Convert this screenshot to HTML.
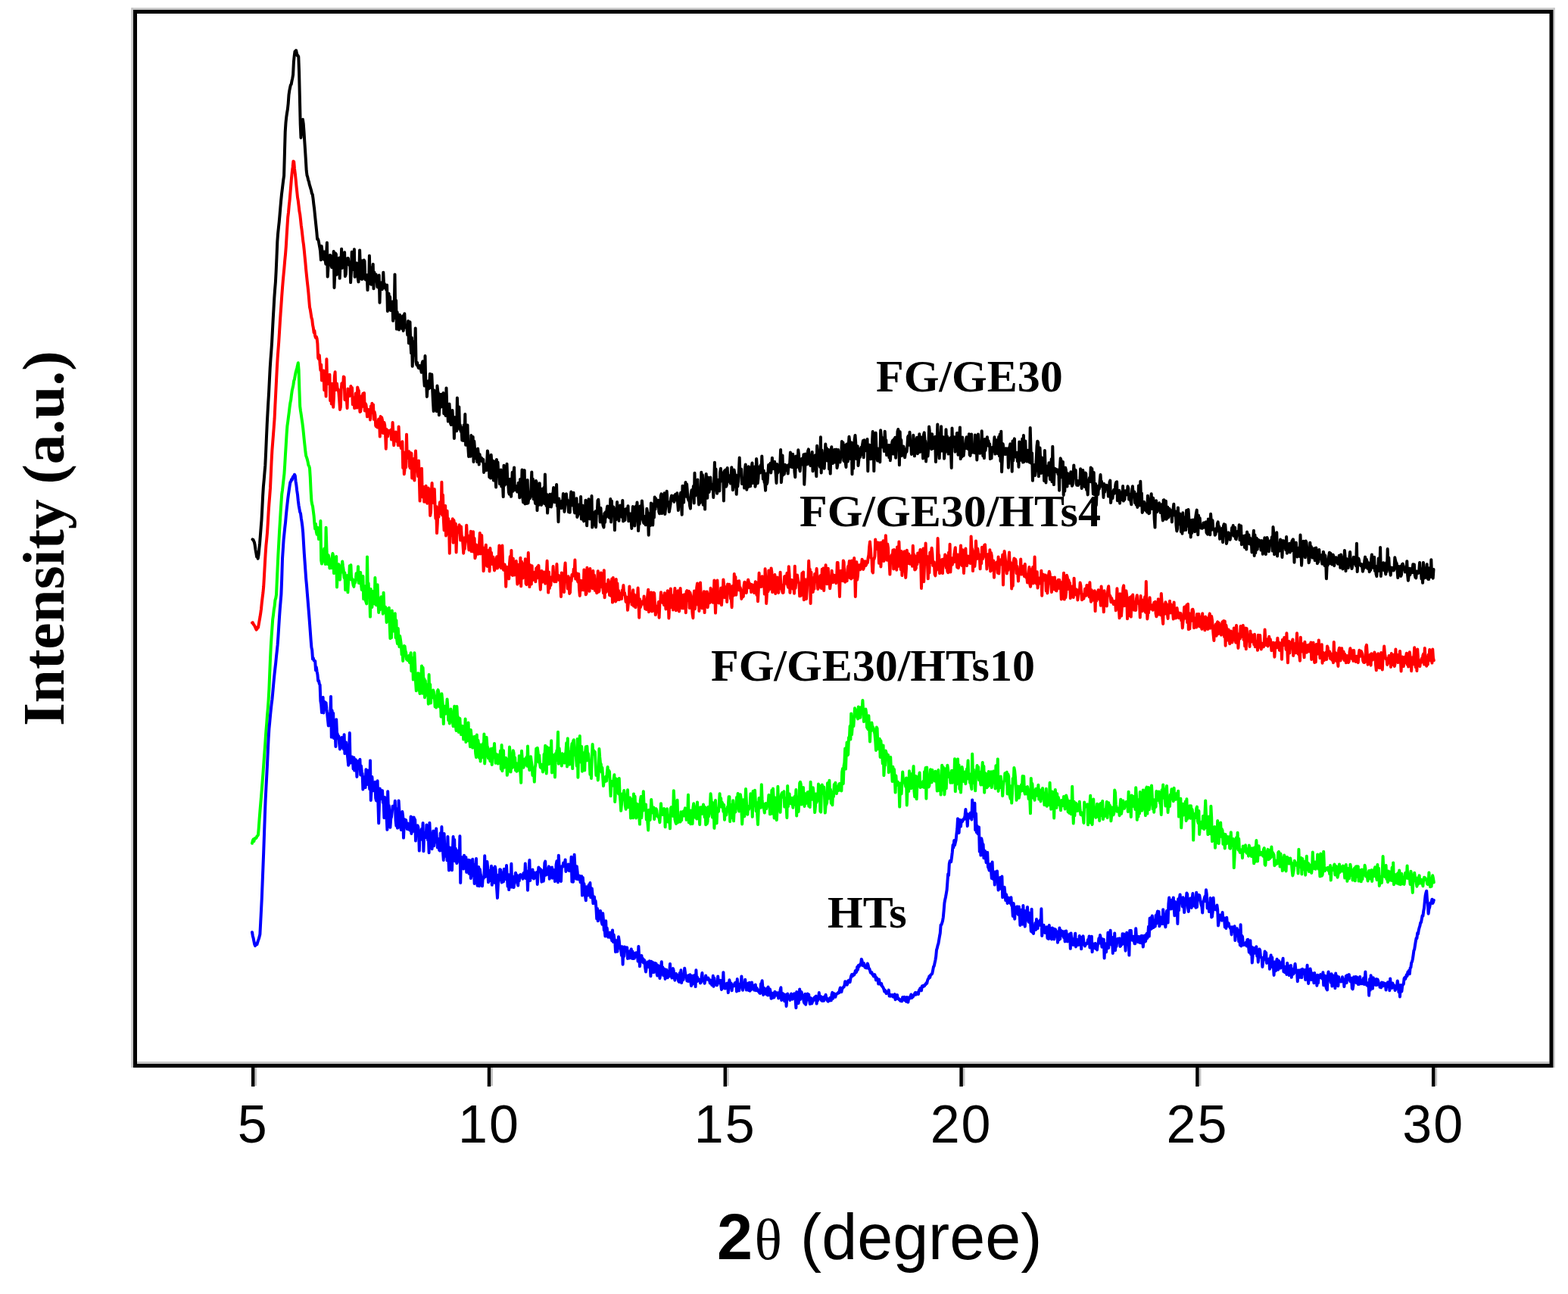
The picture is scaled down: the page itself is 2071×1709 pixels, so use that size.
<!DOCTYPE html>
<html><head><meta charset="utf-8"><style>
html,body{margin:0;padding:0;background:#fff;}
body{width:2071px;height:1709px;overflow:hidden;}
svg{display:block;}
.curves path{fill:none;stroke-width:4.0;stroke-linejoin:round;stroke-linecap:round;}
.tk line{stroke:#000;stroke-width:4.5;}
.tl{font-family:"Liberation Sans",Arial,sans-serif;font-size:70px;text-anchor:middle;fill:#000;letter-spacing:2px;}
.lab{font-family:"Liberation Serif","Times New Roman",serif;font-weight:bold;font-size:60px;fill:#000;}
</style></head><body>
<svg width="2071" height="1709" viewBox="0 0 2071 1709">
<rect x="0" y="0" width="2071" height="1709" fill="#fff"/>
<g class="curves">
<path d="M333.5 712.4L334.3 712.6L335.1 714.4L335.9 716.2L336.7 720.2L337.5 726.1L338.3 730.4L339.1 735.4L339.9 734.4L340.7 737.7L341.5 733.2L342.3 725.1L343.1 717.2L343.9 706.9L344.7 696.5L345.5 686.6L346.3 671.7L347.1 655.4L347.9 642.4L348.7 633.9L349.5 624.2L350.3 614.9L351.1 597.8L351.9 579.1L352.7 560.9L353.5 545.7L354.3 531.6L355.1 518.3L355.9 501.9L356.7 486.0L357.5 474.1L358.3 463.9L359.1 452.4L359.9 436.8L360.7 421.7L361.5 407.9L362.3 393.3L363.1 382.3L363.9 372.6L364.7 357.5L365.5 338.9L366.3 319.2L367.1 308.5L367.9 300.6L368.7 293.3L369.5 284.2L370.3 274.7L371.1 265.5L371.9 257.2L372.7 250.8L373.5 243.9L374.3 237.4L375.1 232.1L375.9 202.8L376.7 174.2L377.5 161.9L378.3 154.4L379.1 148.9L379.9 144.1L380.7 136.6L381.5 125.2L382.3 119.7L383.1 115.8L383.9 112.3L384.7 111.3L385.5 106.9L386.3 103.4L387.1 98.7L387.9 82.2L388.7 73.9L389.5 68.0L390.3 67.6L391.1 66.5L391.9 70.1L392.7 73.4L393.5 73.2L394.3 75.1L395.1 96.1L395.9 129.9L396.7 163.9L397.5 181.9L398.3 172.7L399.1 160.7L399.9 157.7L400.7 163.2L401.5 174.0L402.3 186.8L403.1 198.8L403.9 211.5L404.7 225.3L405.5 231.5L406.3 233.8L407.1 237.7L407.9 239.7L408.7 243.7L409.5 246.2L410.3 248.8L411.1 251.5L411.9 255.5L412.7 256.6L413.5 262.0L414.3 269.3L415.1 275.4L415.9 283.4L416.7 291.3L417.5 298.7L418.3 306.5L419.1 315.9L419.9 315.6L420.7 318.0L421.5 322.5L422.3 326.8L423.1 332.0L423.9 343.3L424.7 325.1L425.5 330.9L426.3 335.1L427.1 342.3L427.9 342.7L428.7 332.4L429.5 342.5L430.3 348.7L431.1 335.7L431.9 320.5L432.7 365.4L433.5 353.0L434.3 341.8L435.1 342.6L435.9 336.9L436.7 337.7L437.5 350.7L438.3 353.3L439.1 341.4L439.9 350.5L440.7 332.0L441.5 380.0L442.3 361.2L443.1 334.5L443.9 335.8L444.7 362.7L445.5 361.5L446.3 350.8L447.1 352.9L447.9 340.6L448.7 367.6L449.5 349.8L450.3 351.7L451.1 328.7L451.9 354.0L452.7 348.0L453.5 351.7L454.3 340.2L455.1 333.3L455.9 364.9L456.7 362.4L457.5 350.3L458.3 341.5L459.1 343.2L459.9 341.1L460.7 348.8L461.5 350.2L462.3 346.8L463.1 373.1L463.9 359.9L464.7 332.8L465.5 350.0L466.3 355.9L467.1 347.3L467.9 329.3L468.7 365.8L469.5 359.5L470.3 350.5L471.1 347.5L471.9 359.3L472.7 367.5L473.5 372.3L474.3 359.6L475.1 330.4L475.9 351.7L476.7 344.1L477.5 368.7L478.3 368.8L479.1 354.2L479.9 343.8L480.7 343.5L481.5 344.9L482.3 368.9L483.1 363.0L483.9 370.1L484.7 363.3L485.5 383.1L486.3 367.7L487.1 373.0L487.9 337.7L488.7 365.5L489.5 375.0L490.3 375.7L491.1 353.5L491.9 361.7L492.7 348.9L493.5 381.3L494.3 359.5L495.1 370.0L495.9 365.8L496.7 362.5L497.5 368.6L498.3 378.9L499.1 376.8L499.9 379.7L500.7 363.6L501.5 399.8L502.3 373.3L503.1 373.4L503.9 373.3L504.7 382.1L505.5 380.8L506.3 359.8L507.1 377.1L507.9 374.8L508.7 380.5L509.5 381.1L510.3 382.9L511.1 376.6L511.9 411.0L512.7 390.8L513.5 387.7L514.3 399.5L515.1 392.0L515.9 410.0L516.7 408.7L517.5 402.5L518.3 398.5L519.1 423.7L519.9 403.4L520.7 407.3L521.5 362.4L522.3 420.1L523.1 396.8L523.9 434.6L524.7 412.3L525.5 422.8L526.3 430.1L527.1 435.4L527.9 415.7L528.7 431.2L529.5 427.2L530.3 428.8L531.1 434.2L531.9 417.3L532.7 436.9L533.5 428.3L534.3 414.2L535.1 432.4L535.9 431.9L536.7 431.3L537.5 434.1L538.3 442.5L539.1 423.9L539.9 453.2L540.7 445.8L541.5 425.3L542.3 452.6L543.1 466.3L543.9 446.1L544.7 483.7L545.5 465.4L546.3 453.5L547.1 451.1L547.9 468.7L548.7 433.6L549.5 477.7L550.3 481.9L551.1 478.9L551.9 483.5L552.7 486.0L553.5 486.2L554.3 483.0L555.1 486.0L555.9 487.6L556.7 491.8L557.5 480.3L558.3 477.2L559.1 477.9L559.9 499.1L560.7 509.5L561.5 470.1L562.3 507.2L563.1 504.9L563.9 523.9L564.7 511.9L565.5 503.2L566.3 513.3L567.1 509.2L567.9 493.7L568.7 512.1L569.5 501.3L570.3 494.6L571.1 512.3L571.9 529.6L572.7 543.1L573.5 515.4L574.3 523.7L575.1 531.9L575.9 533.0L576.7 543.2L577.5 509.6L578.3 517.3L579.1 519.4L579.9 548.2L580.7 536.1L581.5 538.2L582.3 520.8L583.1 537.2L583.9 530.9L584.7 532.5L585.5 519.1L586.3 546.2L587.1 536.7L587.9 546.9L588.7 548.9L589.5 512.4L590.3 536.1L591.1 543.8L591.9 556.5L592.7 553.5L593.5 533.5L594.3 545.7L595.1 559.4L595.9 561.0L596.7 553.1L597.5 541.9L598.3 555.7L599.1 551.0L599.9 578.9L600.7 551.5L601.5 551.0L602.3 553.3L603.1 569.3L603.9 525.5L604.7 546.4L605.5 552.9L606.3 537.4L607.1 566.9L607.9 561.2L608.7 570.0L609.5 564.8L610.3 581.5L611.1 569.1L611.9 582.0L612.7 561.3L613.5 572.6L614.3 547.1L615.1 587.8L615.9 570.8L616.7 575.0L617.5 561.4L618.3 591.1L619.1 602.9L619.9 602.4L620.7 601.6L621.5 602.6L622.3 574.9L623.1 581.7L623.9 577.0L624.7 577.0L625.5 610.0L626.3 582.8L627.1 593.3L627.9 605.2L628.7 599.2L629.5 594.0L630.3 610.1L631.1 592.4L631.9 599.8L632.7 613.6L633.5 599.9L634.3 604.2L635.1 608.4L635.9 604.8L636.7 608.0L637.5 610.1L638.3 606.7L639.1 623.9L639.9 613.0L640.7 614.5L641.5 619.9L642.3 621.2L643.1 611.7L643.9 595.4L644.7 600.7L645.5 606.5L646.3 630.1L647.1 621.8L647.9 631.4L648.7 600.8L649.5 613.1L650.3 608.1L651.1 628.5L651.9 634.6L652.7 609.2L653.5 612.2L654.3 625.9L655.1 643.5L655.9 606.9L656.7 624.5L657.5 610.4L658.3 626.2L659.1 625.5L659.9 639.1L660.7 629.6L661.5 620.4L662.3 642.5L663.1 640.3L663.9 638.7L664.7 656.1L665.5 614.8L666.3 640.9L667.1 622.9L667.9 639.4L668.7 639.2L669.5 612.7L670.3 633.3L671.1 637.3L671.9 649.9L672.7 652.7L673.5 632.7L674.3 641.9L675.1 655.8L675.9 643.2L676.7 623.8L677.5 648.7L678.3 625.9L679.1 617.4L679.9 647.2L680.7 641.4L681.5 646.7L682.3 646.5L683.1 649.5L683.9 646.2L684.7 637.7L685.5 641.9L686.3 657.3L687.1 632.9L687.9 645.0L688.7 652.4L689.5 620.6L690.3 657.0L691.1 663.4L691.9 626.0L692.7 621.1L693.5 665.4L694.3 654.0L695.1 650.2L695.9 665.0L696.7 633.9L697.5 664.5L698.3 658.7L699.1 652.9L699.9 658.3L700.7 655.0L701.5 642.8L702.3 623.4L703.1 655.5L703.9 632.8L704.7 659.1L705.5 642.2L706.3 659.5L707.1 665.0L707.9 635.1L708.7 637.0L709.5 674.1L710.3 653.6L711.1 667.3L711.9 655.0L712.7 638.2L713.5 655.5L714.3 657.4L715.1 667.0L715.9 645.7L716.7 661.6L717.5 657.5L718.3 644.1L719.1 665.1L719.9 626.5L720.7 654.5L721.5 668.0L722.3 652.9L723.1 677.6L723.9 664.8L724.7 665.3L725.5 669.0L726.3 652.7L727.1 655.2L727.9 669.5L728.7 665.4L729.5 652.0L730.3 653.4L731.1 643.9L731.9 662.8L732.7 663.3L733.5 656.7L734.3 652.3L735.1 640.0L735.9 668.2L736.7 667.2L737.5 689.2L738.3 658.6L739.1 668.0L739.9 667.4L740.7 669.3L741.5 671.1L742.3 661.4L743.1 663.8L743.9 652.0L744.7 666.5L745.5 675.9L746.3 666.5L747.1 653.2L747.9 652.3L748.7 662.2L749.5 660.4L750.3 666.9L751.1 676.3L751.9 673.8L752.7 676.7L753.5 659.1L754.3 649.6L755.1 659.8L755.9 667.4L756.7 661.3L757.5 650.7L758.3 672.3L759.1 677.4L759.9 668.2L760.7 669.4L761.5 658.2L762.3 682.9L763.1 681.0L763.9 667.4L764.7 666.6L765.5 676.9L766.3 678.8L767.1 655.9L767.9 685.5L768.7 669.3L769.5 667.5L770.3 684.8L771.1 688.4L771.9 675.3L772.7 681.2L773.5 660.7L774.3 669.5L775.1 694.3L775.9 674.0L776.7 679.8L777.5 659.2L778.3 669.0L779.1 685.4L779.9 672.3L780.7 680.2L781.5 655.1L782.3 696.6L783.1 693.4L783.9 677.2L784.7 690.2L785.5 684.9L786.3 675.3L787.1 696.2L787.9 675.3L788.7 678.2L789.5 661.1L790.3 659.8L791.1 670.3L791.9 672.0L792.7 689.5L793.5 671.0L794.3 689.0L795.1 682.3L795.9 690.1L796.7 694.3L797.5 696.5L798.3 678.0L799.1 690.0L799.9 676.2L800.7 683.0L801.5 672.6L802.3 668.4L803.1 673.8L803.9 669.7L804.7 683.7L805.5 678.7L806.3 659.0L807.1 689.4L807.9 661.7L808.7 681.2L809.5 674.3L810.3 669.4L811.1 673.4L811.9 700.3L812.7 673.8L813.5 686.5L814.3 677.7L815.1 663.0L815.9 678.6L816.7 668.5L817.5 687.8L818.3 669.9L819.1 667.6L819.9 680.5L820.7 671.3L821.5 682.8L822.3 660.9L823.1 688.4L823.9 672.4L824.7 687.5L825.5 686.8L826.3 674.2L827.1 672.0L827.9 677.3L828.7 677.3L829.5 668.2L830.3 688.3L831.1 681.8L831.9 684.1L832.7 678.4L833.5 685.0L834.3 697.9L835.1 681.7L835.9 669.1L836.7 670.3L837.5 677.5L838.3 694.5L839.1 683.1L839.9 668.4L840.7 673.2L841.5 663.5L842.3 676.7L843.1 701.1L843.9 685.8L844.7 692.1L845.5 668.6L846.3 685.5L847.1 678.0L847.9 661.4L848.7 670.9L849.5 688.3L850.3 690.9L851.1 681.9L851.9 691.0L852.7 693.3L853.5 688.7L854.3 671.8L855.1 676.3L855.9 683.4L856.7 706.8L857.5 678.4L858.3 680.4L859.1 694.0L859.9 664.4L860.7 673.3L861.5 670.3L862.3 693.4L863.1 665.5L863.9 683.4L864.7 656.6L865.5 672.7L866.3 658.5L867.1 666.0L867.9 668.4L868.7 661.7L869.5 660.8L870.3 675.8L871.1 678.3L871.9 677.7L872.7 654.6L873.5 652.3L874.3 678.1L875.1 673.5L875.9 672.0L876.7 669.8L877.5 651.3L878.3 679.1L879.1 671.2L879.9 662.4L880.7 648.8L881.5 662.2L882.3 662.7L883.1 666.9L883.9 676.0L884.7 671.1L885.5 666.2L886.3 657.5L887.1 654.6L887.9 660.7L888.7 657.6L889.5 655.1L890.3 662.9L891.1 659.0L891.9 652.9L892.7 660.3L893.5 655.3L894.3 651.2L895.1 664.2L895.9 674.0L896.7 656.8L897.5 666.2L898.3 657.3L899.1 650.8L899.9 666.7L900.7 679.8L901.5 641.7L902.3 652.4L903.1 663.6L903.9 642.1L904.7 647.8L905.5 637.1L906.3 655.7L907.1 639.4L907.9 649.3L908.7 658.4L909.5 661.0L910.3 659.6L911.1 668.1L911.9 671.6L912.7 652.8L913.5 647.2L914.3 648.0L915.1 652.1L915.9 642.0L916.7 664.4L917.5 624.7L918.3 654.8L919.1 645.9L919.9 647.4L920.7 652.1L921.5 633.4L922.3 656.2L923.1 666.4L923.9 658.2L924.7 664.1L925.5 658.3L926.3 623.8L927.1 642.2L927.9 627.3L928.7 666.7L929.5 653.2L930.3 639.4L931.1 672.6L931.9 634.3L932.7 625.9L933.5 643.7L934.3 657.8L935.1 630.6L935.9 635.6L936.7 649.9L937.5 640.5L938.3 630.4L939.1 640.9L939.9 645.7L940.7 641.2L941.5 640.2L942.3 656.9L943.1 637.0L943.9 610.7L944.7 641.0L945.5 619.5L946.3 645.5L947.1 651.8L947.9 643.7L948.7 633.8L949.5 641.1L950.3 648.4L951.1 624.1L951.9 618.8L952.7 635.4L953.5 624.2L954.3 629.4L955.1 627.8L955.9 661.5L956.7 622.0L957.5 638.1L958.3 620.4L959.1 642.7L959.9 640.4L960.7 617.9L961.5 633.5L962.3 628.3L963.1 636.0L963.9 628.0L964.7 638.4L965.5 629.7L966.3 617.2L967.1 632.6L967.9 647.2L968.7 641.9L969.5 620.4L970.3 624.7L971.1 635.1L971.9 627.5L972.7 652.8L973.5 635.8L974.3 642.5L975.1 635.3L975.9 622.2L976.7 604.6L977.5 625.9L978.3 620.9L979.1 619.5L979.9 639.0L980.7 631.6L981.5 633.4L982.3 632.7L983.1 644.5L983.9 619.7L984.7 613.5L985.5 623.1L986.3 646.7L987.1 633.2L987.9 643.5L988.7 616.2L989.5 618.3L990.3 632.1L991.1 642.3L991.9 633.3L992.7 616.9L993.5 611.5L994.3 638.1L995.1 628.3L995.9 632.2L996.7 616.6L997.5 642.7L998.3 637.9L999.1 605.9L999.9 617.2L1000.7 638.2L1001.5 631.5L1002.3 616.8L1003.1 622.5L1003.9 624.4L1004.7 614.3L1005.5 623.7L1006.3 602.4L1007.1 619.5L1007.9 632.6L1008.7 621.5L1009.5 636.7L1010.3 638.3L1011.1 647.8L1011.9 625.4L1012.7 639.2L1013.5 637.2L1014.3 626.2L1015.1 613.9L1015.9 621.7L1016.7 619.9L1017.5 611.8L1018.3 624.4L1019.1 617.0L1019.9 604.7L1020.7 618.8L1021.5 618.9L1022.3 614.7L1023.1 609.7L1023.9 617.4L1024.7 626.3L1025.5 637.9L1026.3 613.1L1027.1 624.8L1027.9 623.0L1028.7 617.1L1029.5 615.2L1030.3 613.5L1031.1 593.9L1031.9 637.2L1032.7 627.7L1033.5 601.4L1034.3 627.6L1035.1 621.6L1035.9 626.0L1036.7 613.7L1037.5 615.7L1038.3 614.7L1039.1 621.6L1039.9 618.7L1040.7 625.5L1041.5 614.0L1042.3 616.8L1043.1 612.7L1043.9 597.5L1044.7 603.7L1045.5 616.9L1046.3 617.1L1047.1 599.7L1047.9 612.5L1048.7 605.4L1049.5 623.8L1050.3 630.3L1051.1 602.6L1051.9 617.5L1052.7 609.3L1053.5 612.5L1054.3 594.3L1055.1 600.9L1055.9 618.8L1056.7 622.3L1057.5 612.8L1058.3 606.9L1059.1 605.8L1059.9 613.4L1060.7 608.5L1061.5 600.2L1062.3 639.8L1063.1 623.1L1063.9 599.5L1064.7 613.7L1065.5 612.8L1066.3 613.0L1067.1 595.6L1067.9 593.3L1068.7 602.5L1069.5 601.4L1070.3 615.0L1071.1 614.7L1071.9 607.9L1072.7 596.9L1073.5 622.3L1074.3 605.5L1075.1 614.3L1075.9 617.6L1076.7 601.2L1077.5 619.4L1078.3 629.1L1079.1 588.7L1079.9 598.0L1080.7 602.0L1081.5 599.6L1082.3 614.3L1083.1 616.8L1083.9 577.3L1084.7 624.5L1085.5 594.5L1086.3 605.0L1087.1 616.3L1087.9 605.8L1088.7 618.7L1089.5 603.7L1090.3 586.6L1091.1 598.2L1091.9 592.1L1092.7 608.4L1093.5 606.7L1094.3 594.1L1095.1 619.4L1095.9 603.6L1096.7 625.6L1097.5 596.0L1098.3 590.2L1099.1 605.6L1099.9 612.1L1100.7 608.1L1101.5 606.9L1102.3 593.7L1103.1 610.6L1103.9 597.7L1104.7 593.6L1105.5 618.0L1106.3 614.4L1107.1 594.1L1107.9 601.7L1108.7 605.0L1109.5 610.5L1110.3 603.5L1111.1 601.1L1111.9 583.0L1112.7 590.5L1113.5 584.5L1114.3 608.5L1115.1 609.1L1115.9 588.3L1116.7 611.2L1117.5 617.0L1118.3 586.4L1119.1 602.4L1119.9 609.5L1120.7 587.9L1121.5 576.7L1122.3 583.8L1123.1 598.1L1123.9 606.6L1124.7 584.5L1125.5 626.2L1126.3 593.9L1127.1 618.6L1127.9 595.8L1128.7 580.2L1129.5 574.9L1130.3 585.7L1131.1 605.9L1131.9 589.9L1132.7 589.3L1133.5 615.0L1134.3 607.8L1135.1 593.1L1135.9 603.8L1136.7 599.8L1137.5 590.4L1138.3 600.2L1139.1 587.0L1139.9 582.0L1140.7 604.2L1141.5 581.3L1142.3 595.5L1143.1 593.6L1143.9 583.6L1144.7 590.1L1145.5 580.0L1146.3 622.3L1147.1 587.8L1147.9 587.6L1148.7 599.2L1149.5 595.7L1150.3 606.3L1151.1 588.5L1151.9 585.7L1152.7 570.1L1153.5 581.9L1154.3 622.1L1155.1 587.5L1155.9 574.3L1156.7 571.7L1157.5 593.3L1158.3 605.0L1159.1 608.5L1159.9 592.4L1160.7 607.3L1161.5 595.8L1162.3 610.3L1163.1 568.2L1163.9 577.2L1164.7 577.6L1165.5 590.4L1166.3 580.8L1167.1 585.7L1167.9 596.0L1168.7 569.7L1169.5 582.1L1170.3 581.4L1171.1 601.1L1171.9 590.7L1172.7 589.1L1173.5 588.2L1174.3 604.2L1175.1 588.0L1175.9 608.2L1176.7 593.9L1177.5 592.7L1178.3 584.0L1179.1 581.8L1179.9 599.6L1180.7 579.9L1181.5 584.4L1182.3 577.8L1183.1 604.7L1183.9 584.8L1184.7 589.6L1185.5 569.8L1186.3 567.0L1187.1 577.7L1187.9 614.3L1188.7 570.2L1189.5 593.7L1190.3 581.1L1191.1 601.9L1191.9 600.6L1192.7 591.3L1193.5 589.7L1194.3 595.1L1195.1 604.3L1195.9 599.0L1196.7 593.6L1197.5 596.7L1198.3 589.8L1199.1 577.0L1199.9 575.6L1200.7 587.8L1201.5 570.8L1202.3 585.7L1203.1 585.5L1203.9 600.0L1204.7 594.5L1205.5 597.2L1206.3 574.7L1207.1 581.7L1207.9 602.3L1208.7 584.2L1209.5 589.3L1210.3 582.7L1211.1 577.7L1211.9 599.2L1212.7 578.1L1213.5 590.1L1214.3 573.2L1215.1 597.1L1215.9 588.6L1216.7 577.5L1217.5 594.0L1218.3 582.9L1219.1 605.5L1219.9 574.5L1220.7 571.4L1221.5 581.5L1222.3 582.7L1223.1 609.4L1223.9 586.1L1224.7 594.0L1225.5 602.5L1226.3 591.4L1227.1 563.5L1227.9 570.3L1228.7 574.4L1229.5 583.3L1230.3 593.3L1231.1 573.2L1231.9 592.4L1232.7 584.7L1233.5 591.9L1234.3 587.6L1235.1 576.7L1235.9 610.0L1236.7 597.5L1237.5 587.9L1238.3 560.5L1239.1 593.4L1239.9 584.6L1240.7 605.3L1241.5 575.1L1242.3 576.4L1243.1 563.2L1243.9 595.6L1244.7 576.7L1245.5 588.3L1246.3 577.5L1247.1 605.7L1247.9 594.6L1248.7 597.0L1249.5 567.2L1250.3 588.2L1251.1 576.4L1251.9 587.5L1252.7 599.5L1253.5 587.0L1254.3 593.2L1255.1 578.3L1255.9 594.5L1256.7 617.9L1257.5 565.6L1258.3 589.7L1259.1 582.0L1259.9 589.9L1260.7 577.2L1261.5 596.7L1262.3 595.0L1263.1 587.5L1263.9 571.9L1264.7 572.0L1265.5 600.7L1266.3 589.2L1267.1 578.1L1267.9 564.4L1268.7 606.1L1269.5 600.6L1270.3 603.4L1271.1 577.4L1271.9 592.8L1272.7 601.9L1273.5 593.6L1274.3 589.2L1275.1 592.0L1275.9 580.6L1276.7 577.2L1277.5 592.1L1278.3 583.9L1279.1 593.4L1279.9 573.3L1280.7 600.8L1281.5 601.8L1282.3 582.0L1283.1 573.6L1283.9 597.7L1284.7 587.9L1285.5 590.6L1286.3 588.6L1287.1 598.2L1287.9 574.4L1288.7 591.5L1289.5 586.5L1290.3 607.5L1291.1 592.9L1291.9 573.5L1292.7 596.8L1293.5 592.1L1294.3 598.8L1295.1 592.1L1295.9 590.9L1296.7 569.3L1297.5 590.0L1298.3 602.0L1299.1 585.9L1299.9 605.1L1300.7 580.1L1301.5 595.0L1302.3 588.5L1303.1 588.8L1303.9 577.2L1304.7 588.1L1305.5 582.3L1306.3 589.3L1307.1 586.2L1307.9 606.1L1308.7 593.8L1309.5 605.3L1310.3 591.0L1311.1 592.6L1311.9 595.9L1312.7 587.0L1313.5 577.2L1314.3 599.6L1315.1 580.8L1315.9 584.2L1316.7 597.8L1317.5 598.9L1318.3 586.2L1319.1 577.1L1319.9 602.1L1320.7 573.4L1321.5 608.9L1322.3 569.8L1323.1 623.2L1323.9 604.5L1324.7 586.3L1325.5 592.2L1326.3 599.8L1327.1 595.4L1327.9 600.1L1328.7 592.2L1329.5 598.1L1330.3 598.0L1331.1 592.5L1331.9 617.7L1332.7 596.6L1333.5 590.3L1334.3 586.4L1335.1 601.5L1335.9 588.9L1336.7 622.8L1337.5 582.6L1338.3 608.4L1339.1 583.3L1339.9 579.4L1340.7 602.4L1341.5 603.6L1342.3 603.7L1343.1 597.7L1343.9 609.1L1344.7 598.0L1345.5 616.7L1346.3 583.6L1347.1 605.7L1347.9 603.6L1348.7 607.8L1349.5 595.0L1350.3 579.4L1351.1 610.6L1351.9 575.0L1352.7 609.8L1353.5 592.3L1354.3 582.6L1355.1 603.1L1355.9 597.6L1356.7 609.6L1357.5 594.7L1358.3 606.6L1359.1 596.0L1359.9 610.7L1360.7 564.9L1361.5 592.7L1362.3 611.9L1363.1 598.6L1363.9 634.8L1364.7 620.8L1365.5 625.7L1366.3 613.9L1367.1 627.9L1367.9 621.4L1368.7 607.1L1369.5 589.2L1370.3 582.8L1371.1 584.3L1371.9 629.2L1372.7 600.9L1373.5 591.4L1374.3 608.4L1375.1 625.0L1375.9 604.3L1376.7 607.6L1377.5 622.0L1378.3 609.7L1379.1 634.9L1379.9 595.0L1380.7 616.6L1381.5 637.4L1382.3 615.6L1383.1 615.7L1383.9 627.4L1384.7 620.1L1385.5 611.2L1386.3 624.6L1387.1 633.3L1387.9 617.5L1388.7 606.3L1389.5 636.3L1390.3 589.8L1391.1 623.7L1391.9 640.1L1392.7 621.3L1393.5 618.8L1394.3 619.7L1395.1 622.3L1395.9 623.2L1396.7 620.4L1397.5 626.3L1398.3 623.6L1399.1 647.7L1399.9 618.0L1400.7 605.3L1401.5 607.6L1402.3 620.4L1403.1 630.7L1403.9 609.9L1404.7 653.9L1405.5 624.7L1406.3 648.6L1407.1 617.4L1407.9 620.5L1408.7 641.2L1409.5 642.5L1410.3 625.2L1411.1 634.7L1411.9 626.8L1412.7 638.2L1413.5 630.5L1414.3 623.2L1415.1 632.8L1415.9 641.8L1416.7 640.2L1417.5 628.1L1418.3 614.4L1419.1 628.7L1419.9 621.8L1420.7 620.9L1421.5 638.3L1422.3 640.8L1423.1 635.1L1423.9 640.9L1424.7 635.1L1425.5 638.9L1426.3 637.3L1427.1 619.2L1427.9 625.8L1428.7 645.0L1429.5 630.9L1430.3 621.1L1431.1 631.6L1431.9 629.7L1432.7 642.9L1433.5 624.4L1434.3 625.6L1435.1 647.0L1435.9 642.5L1436.7 653.4L1437.5 635.5L1438.3 634.4L1439.1 630.7L1439.9 636.0L1440.7 617.4L1441.5 636.5L1442.3 619.0L1443.1 636.5L1443.9 652.5L1444.7 624.1L1445.5 653.3L1446.3 652.7L1447.1 638.9L1447.9 667.2L1448.7 649.7L1449.5 642.2L1450.3 653.1L1451.1 641.6L1451.9 645.7L1452.7 634.5L1453.5 626.9L1454.3 639.4L1455.1 635.9L1455.9 642.9L1456.7 642.6L1457.5 656.9L1458.3 639.1L1459.1 649.8L1459.9 641.5L1460.7 645.4L1461.5 640.7L1462.3 645.3L1463.1 643.7L1463.9 655.6L1464.7 650.5L1465.5 636.8L1466.3 634.6L1467.1 664.1L1467.9 656.8L1468.7 652.8L1469.5 658.0L1470.3 649.5L1471.1 647.1L1471.9 651.7L1472.7 647.3L1473.5 639.3L1474.3 636.9L1475.1 636.3L1475.9 661.3L1476.7 655.3L1477.5 661.6L1478.3 647.7L1479.1 664.7L1479.9 650.3L1480.7 660.3L1481.5 654.0L1482.3 659.7L1483.1 642.0L1483.9 661.6L1484.7 656.2L1485.5 659.7L1486.3 648.3L1487.1 649.8L1487.9 653.4L1488.7 651.6L1489.5 642.3L1490.3 644.9L1491.1 659.6L1491.9 652.5L1492.7 659.4L1493.5 662.2L1494.3 666.3L1495.1 647.9L1495.9 642.2L1496.7 652.1L1497.5 656.3L1498.3 649.6L1499.1 664.1L1499.9 658.4L1500.7 666.8L1501.5 652.5L1502.3 669.9L1503.1 666.2L1503.9 641.5L1504.7 660.2L1505.5 667.6L1506.3 635.7L1507.1 660.2L1507.9 651.4L1508.7 676.9L1509.5 674.3L1510.3 670.8L1511.1 662.8L1511.9 665.6L1512.7 669.8L1513.5 674.3L1514.3 667.5L1515.1 676.5L1515.9 654.7L1516.7 666.1L1517.5 678.3L1518.3 677.6L1519.1 663.0L1519.9 660.8L1520.7 652.3L1521.5 671.9L1522.3 665.7L1523.1 657.7L1523.9 662.9L1524.7 685.6L1525.5 696.6L1526.3 661.7L1527.1 661.3L1527.9 676.3L1528.7 672.6L1529.5 670.2L1530.3 669.4L1531.1 664.3L1531.9 673.9L1532.7 676.9L1533.5 673.8L1534.3 666.3L1535.1 680.7L1535.9 687.4L1536.7 660.4L1537.5 660.2L1538.3 678.2L1539.1 685.6L1539.9 661.7L1540.7 685.8L1541.5 682.7L1542.3 669.7L1543.1 683.6L1543.9 680.2L1544.7 671.9L1545.5 678.2L1546.3 680.7L1547.1 674.4L1547.9 689.5L1548.7 674.8L1549.5 672.7L1550.3 665.7L1551.1 680.4L1551.9 675.5L1552.7 675.6L1553.5 693.8L1554.3 701.4L1555.1 698.5L1555.9 670.4L1556.7 692.6L1557.5 684.5L1558.3 678.5L1559.1 684.8L1559.9 702.2L1560.7 691.5L1561.5 704.7L1562.3 677.2L1563.1 691.1L1563.9 700.2L1564.7 694.5L1565.5 683.2L1566.3 700.0L1567.1 674.0L1567.9 679.8L1568.7 694.8L1569.5 673.0L1570.3 684.2L1571.1 703.6L1571.9 687.6L1572.7 709.5L1573.5 687.0L1574.3 704.0L1575.1 695.5L1575.9 686.4L1576.7 691.5L1577.5 692.1L1578.3 702.2L1579.1 683.5L1579.9 678.1L1580.7 673.6L1581.5 694.2L1582.3 706.3L1583.1 680.8L1583.9 693.6L1584.7 684.2L1585.5 696.1L1586.3 697.5L1587.1 694.4L1587.9 697.8L1588.7 696.7L1589.5 690.5L1590.3 695.8L1591.1 696.7L1591.9 689.9L1592.7 689.4L1593.5 703.4L1594.3 704.5L1595.1 705.6L1595.9 685.4L1596.7 695.9L1597.5 695.0L1598.3 706.3L1599.1 678.8L1599.9 689.9L1600.7 699.7L1601.5 687.3L1602.3 698.1L1603.1 698.9L1603.9 698.5L1604.7 706.7L1605.5 705.6L1606.3 698.1L1607.1 701.9L1607.9 691.4L1608.7 689.4L1609.5 697.2L1610.3 695.4L1611.1 711.8L1611.9 702.4L1612.7 698.8L1613.5 698.1L1614.3 705.3L1615.1 716.2L1615.9 694.9L1616.7 692.2L1617.5 705.6L1618.3 693.1L1619.1 703.0L1619.9 718.0L1620.7 714.6L1621.5 703.9L1622.3 703.4L1623.1 705.0L1623.9 709.6L1624.7 712.7L1625.5 707.4L1626.3 705.9L1627.1 697.1L1627.9 705.1L1628.7 694.1L1629.5 707.8L1630.3 705.6L1631.1 696.8L1631.9 711.3L1632.7 712.2L1633.5 706.0L1634.3 702.1L1635.1 704.0L1635.9 706.5L1636.7 693.3L1637.5 713.1L1638.3 704.4L1639.1 694.5L1639.9 719.2L1640.7 711.9L1641.5 717.0L1642.3 707.9L1643.1 709.0L1643.9 722.9L1644.7 707.3L1645.5 715.4L1646.3 725.6L1647.1 702.5L1647.9 706.7L1648.7 712.1L1649.5 706.6L1650.3 718.3L1651.1 710.6L1651.9 719.0L1652.7 714.1L1653.5 729.4L1654.3 719.0L1655.1 711.1L1655.9 700.8L1656.7 734.0L1657.5 706.6L1658.3 730.1L1659.1 713.0L1659.9 710.8L1660.7 725.7L1661.5 712.8L1662.3 721.6L1663.1 713.4L1663.9 719.4L1664.7 714.9L1665.5 726.6L1666.3 713.9L1667.1 718.9L1667.9 731.8L1668.7 725.5L1669.5 721.9L1670.3 710.3L1671.1 720.6L1671.9 732.1L1672.7 714.5L1673.5 709.9L1674.3 712.8L1675.1 723.8L1675.9 728.4L1676.7 717.0L1677.5 717.2L1678.3 714.1L1679.1 717.0L1679.9 709.3L1680.7 727.6L1681.5 696.0L1682.3 703.9L1683.1 732.3L1683.9 730.3L1684.7 719.4L1685.5 724.0L1686.3 703.2L1687.1 734.5L1687.9 725.5L1688.7 727.1L1689.5 727.6L1690.3 718.9L1691.1 712.5L1691.9 727.4L1692.7 722.0L1693.5 735.9L1694.3 713.9L1695.1 721.2L1695.9 714.6L1696.7 718.5L1697.5 722.4L1698.3 726.3L1699.1 709.1L1699.9 730.8L1700.7 719.6L1701.5 727.3L1702.3 723.6L1703.1 717.8L1703.9 729.5L1704.7 726.9L1705.5 727.3L1706.3 714.9L1707.1 713.4L1707.9 712.3L1708.7 715.9L1709.5 742.7L1710.3 721.4L1711.1 722.3L1711.9 716.7L1712.7 728.8L1713.5 735.4L1714.3 726.9L1715.1 723.9L1715.9 730.0L1716.7 735.0L1717.5 706.6L1718.3 726.2L1719.1 746.7L1719.9 730.4L1720.7 727.5L1721.5 714.8L1722.3 727.9L1723.1 734.1L1723.9 736.3L1724.7 714.6L1725.5 716.3L1726.3 724.8L1727.1 726.0L1727.9 732.8L1728.7 743.3L1729.5 739.7L1730.3 716.7L1731.1 726.4L1731.9 722.0L1732.7 725.5L1733.5 736.5L1734.3 734.3L1735.1 736.8L1735.9 724.3L1736.7 740.1L1737.5 738.1L1738.3 723.5L1739.1 732.3L1739.9 744.2L1740.7 735.9L1741.5 742.1L1742.3 725.9L1743.1 738.4L1743.9 737.8L1744.7 733.4L1745.5 733.3L1746.3 744.7L1747.1 739.1L1747.9 728.7L1748.7 732.4L1749.5 747.0L1750.3 733.6L1751.1 740.0L1751.9 764.3L1752.7 746.8L1753.5 746.9L1754.3 745.2L1755.1 734.6L1755.9 729.8L1756.7 743.9L1757.5 730.8L1758.3 733.3L1759.1 745.4L1759.9 743.1L1760.7 732.8L1761.5 734.9L1762.3 747.2L1763.1 737.9L1763.9 742.2L1764.7 736.3L1765.5 741.4L1766.3 742.9L1767.1 744.6L1767.9 744.1L1768.7 733.7L1769.5 738.6L1770.3 749.8L1771.1 732.4L1771.9 736.4L1772.7 748.2L1773.5 751.4L1774.3 742.0L1775.1 749.7L1775.9 727.0L1776.7 735.7L1777.5 754.2L1778.3 743.2L1779.1 738.2L1779.9 743.5L1780.7 750.0L1781.5 740.0L1782.3 736.3L1783.1 729.0L1783.9 741.2L1784.7 746.4L1785.5 751.1L1786.3 747.1L1787.1 745.0L1787.9 735.7L1788.7 737.9L1789.5 743.2L1790.3 741.1L1791.1 747.5L1791.9 717.7L1792.7 755.1L1793.5 744.0L1794.3 737.4L1795.1 740.0L1795.9 745.7L1796.7 745.3L1797.5 747.2L1798.3 745.1L1799.1 748.4L1799.9 754.7L1800.7 751.6L1801.5 750.6L1802.3 740.5L1803.1 735.6L1803.9 748.9L1804.7 738.6L1805.5 740.9L1806.3 750.8L1807.1 743.1L1807.9 746.9L1808.7 755.2L1809.5 752.4L1810.3 752.7L1811.1 738.9L1811.9 732.4L1812.7 746.0L1813.5 749.6L1814.3 740.0L1815.1 735.8L1815.9 754.0L1816.7 747.7L1817.5 758.1L1818.3 761.1L1819.1 750.3L1819.9 753.3L1820.7 737.5L1821.5 737.9L1822.3 754.1L1823.1 723.1L1823.9 760.9L1824.7 746.9L1825.5 745.2L1826.3 748.7L1827.1 743.2L1827.9 753.0L1828.7 748.4L1829.5 754.1L1830.3 758.4L1831.1 742.9L1831.9 754.7L1832.7 725.1L1833.5 751.5L1834.3 736.6L1835.1 751.6L1835.9 752.5L1836.7 759.7L1837.5 749.4L1838.3 751.8L1839.1 753.2L1839.9 750.1L1840.7 753.5L1841.5 751.5L1842.3 736.3L1843.1 740.3L1843.9 743.1L1844.7 743.9L1845.5 753.4L1846.3 763.1L1847.1 748.0L1847.9 753.9L1848.7 750.9L1849.5 748.0L1850.3 760.9L1851.1 758.6L1851.9 745.5L1852.7 744.6L1853.5 747.5L1854.3 749.6L1855.1 751.9L1855.9 755.5L1856.7 749.3L1857.5 752.3L1858.3 741.2L1859.1 759.2L1859.9 766.8L1860.7 760.6L1861.5 750.7L1862.3 759.2L1863.1 755.6L1863.9 750.9L1864.7 756.3L1865.5 752.4L1866.3 745.2L1867.1 756.2L1867.9 745.6L1868.7 759.2L1869.5 762.7L1870.3 763.3L1871.1 754.6L1871.9 755.8L1872.7 755.0L1873.5 756.8L1874.3 753.3L1875.1 742.9L1875.9 755.5L1876.7 751.5L1877.5 764.4L1878.3 759.8L1879.1 769.8L1879.9 742.9L1880.7 751.2L1881.5 763.4L1882.3 750.7L1883.1 756.0L1883.9 762.6L1884.7 745.2L1885.5 763.7L1886.3 765.1L1887.1 765.1L1887.9 750.2L1888.7 753.3L1889.5 762.1L1890.3 739.2L1891.1 759.7L1891.9 753.9L1892.7 763.7L1893.5 752.0" stroke="#000"/>
<path d="M333.0 822.5L333.8 822.2L334.6 824.3L335.4 825.2L336.2 826.5L337.0 828.2L337.8 830.0L338.6 831.6L339.4 830.8L340.2 828.5L341.0 828.8L341.8 824.4L342.6 819.6L343.4 815.2L344.2 810.1L345.0 804.2L345.8 796.0L346.6 789.3L347.4 783.1L348.2 774.5L349.0 760.6L349.8 745.9L350.6 732.0L351.4 720.6L352.2 712.6L353.0 703.6L353.8 690.8L354.6 676.7L355.4 665.3L356.2 655.3L357.0 644.7L357.8 627.0L358.6 609.1L359.4 594.7L360.2 584.4L361.0 574.2L361.8 563.3L362.6 552.5L363.4 535.4L364.2 519.4L365.0 503.4L365.8 487.1L366.6 473.4L367.4 462.4L368.2 452.0L369.0 439.1L369.8 426.2L370.6 414.0L371.4 403.0L372.2 391.2L373.0 380.6L373.8 370.7L374.6 362.1L375.4 353.8L376.2 344.2L377.0 336.0L377.8 325.6L378.6 312.1L379.4 299.3L380.2 287.1L381.0 280.5L381.8 271.4L382.6 264.6L383.4 255.2L384.2 245.3L385.0 235.1L385.8 227.2L386.6 221.0L387.4 212.9L388.2 213.5L389.0 223.0L389.8 229.1L390.6 236.4L391.4 245.1L392.2 252.7L393.0 260.6L393.8 265.2L394.6 272.1L395.4 279.0L396.2 283.1L397.0 290.0L397.8 297.7L398.6 303.6L399.4 310.6L400.2 317.9L401.0 323.3L401.8 330.8L402.6 339.1L403.4 347.3L404.2 356.5L405.0 364.2L405.8 372.0L406.6 378.9L407.4 386.8L408.2 396.2L409.0 405.6L409.8 409.0L410.6 414.3L411.4 419.5L412.2 421.8L413.0 428.9L413.8 432.8L414.6 439.2L415.4 437.0L416.2 443.8L417.0 446.1L417.8 444.7L418.6 447.1L419.4 454.1L420.2 472.8L421.0 474.1L421.8 469.1L422.6 480.5L423.4 489.1L424.2 481.8L425.0 502.4L425.8 497.3L426.6 492.7L427.4 489.5L428.2 515.3L429.0 494.0L429.8 507.3L430.6 523.4L431.4 474.2L432.2 507.1L433.0 505.9L433.8 504.3L434.6 502.6L435.4 494.8L436.2 529.3L437.0 507.0L437.8 533.5L438.6 506.7L439.4 529.3L440.2 537.8L441.0 523.7L441.8 497.4L442.6 491.2L443.4 515.1L444.2 510.8L445.0 506.8L445.8 514.3L446.6 514.1L447.4 518.6L448.2 528.5L449.0 540.9L449.8 537.7L450.6 516.0L451.4 506.2L452.2 511.2L453.0 510.9L453.8 497.6L454.6 498.0L455.4 527.9L456.2 527.1L457.0 526.8L457.8 527.6L458.6 539.0L459.4 513.4L460.2 522.1L461.0 517.2L461.8 522.9L462.6 520.5L463.4 509.9L464.2 516.0L465.0 512.0L465.8 534.2L466.6 530.4L467.4 525.2L468.2 539.1L469.0 537.2L469.8 519.5L470.6 522.7L471.4 538.6L472.2 511.6L473.0 514.8L473.8 515.9L474.6 529.8L475.4 543.9L476.2 543.5L477.0 536.9L477.8 523.0L478.6 523.2L479.4 519.8L480.2 536.8L481.0 519.1L481.8 542.5L482.6 533.0L483.4 534.5L484.2 540.3L485.0 550.3L485.8 545.5L486.6 540.9L487.4 542.2L488.2 541.5L489.0 554.4L489.8 536.5L490.6 545.0L491.4 532.7L492.2 539.6L493.0 534.5L493.8 553.8L494.6 543.9L495.4 547.7L496.2 562.1L497.0 563.4L497.8 558.3L498.6 564.4L499.4 558.9L500.2 553.4L501.0 553.8L501.8 576.6L502.6 550.1L503.4 550.9L504.2 551.4L505.0 554.9L505.8 572.0L506.6 563.9L507.4 557.9L508.2 561.4L509.0 572.2L509.8 592.7L510.6 567.1L511.4 576.6L512.2 576.4L513.0 568.8L513.8 569.9L514.6 570.6L515.4 571.0L516.2 567.9L517.0 580.5L517.8 576.5L518.6 557.9L519.4 572.5L520.2 588.2L521.0 575.7L521.8 581.0L522.6 570.4L523.4 581.2L524.2 582.8L525.0 576.5L525.8 588.0L526.6 563.6L527.4 583.5L528.2 588.4L529.0 585.0L529.8 592.1L530.6 590.2L531.4 583.2L532.2 617.9L533.0 597.2L533.8 626.3L534.6 619.6L535.4 604.0L536.2 617.1L537.0 573.7L537.8 605.3L538.6 602.3L539.4 602.5L540.2 596.2L541.0 616.2L541.8 618.3L542.6 598.2L543.4 598.7L544.2 631.5L545.0 624.5L545.8 608.9L546.6 606.1L547.4 634.5L548.2 609.2L549.0 595.6L549.8 615.8L550.6 618.3L551.4 618.0L552.2 629.1L553.0 608.4L553.8 632.8L554.6 661.6L555.4 635.4L556.2 639.4L557.0 618.7L557.8 655.4L558.6 656.6L559.4 642.9L560.2 662.7L561.0 662.6L561.8 661.7L562.6 641.7L563.4 656.7L564.2 664.7L565.0 664.3L565.8 644.6L566.6 648.0L567.4 658.0L568.2 680.9L569.0 676.3L569.8 649.1L570.6 638.0L571.4 663.5L572.2 661.0L573.0 664.3L573.8 646.1L574.6 668.7L575.4 684.7L576.2 668.9L577.0 704.1L577.8 691.2L578.6 671.7L579.4 682.8L580.2 669.7L581.0 663.2L581.8 677.8L582.6 677.9L583.4 636.7L584.2 680.5L585.0 653.8L585.8 685.6L586.6 700.3L587.4 687.4L588.2 668.0L589.0 707.5L589.8 704.0L590.6 674.7L591.4 700.8L592.2 684.9L593.0 692.7L593.8 730.8L594.6 689.7L595.4 707.3L596.2 688.6L597.0 704.7L597.8 685.3L598.6 716.8L599.4 687.1L600.2 692.4L601.0 696.7L601.8 691.7L602.6 729.5L603.4 704.1L604.2 703.5L605.0 696.6L605.8 699.3L606.6 693.2L607.4 703.9L608.2 713.6L609.0 695.5L609.8 708.9L610.6 709.0L611.4 718.7L612.2 730.7L613.0 720.1L613.8 725.0L614.6 709.8L615.4 714.7L616.2 693.7L617.0 712.9L617.8 709.0L618.6 718.6L619.4 726.4L620.2 707.4L621.0 716.6L621.8 701.7L622.6 728.3L623.4 724.9L624.2 718.1L625.0 702.3L625.8 729.0L626.6 711.1L627.4 737.3L628.2 734.0L629.0 719.4L629.8 729.4L630.6 722.9L631.4 731.8L632.2 725.3L633.0 719.7L633.8 703.9L634.6 731.4L635.4 726.9L636.2 706.9L637.0 728.2L637.8 723.3L638.6 754.3L639.4 747.1L640.2 736.3L641.0 727.6L641.8 719.7L642.6 740.1L643.4 747.9L644.2 733.6L645.0 745.9L645.8 726.6L646.6 754.4L647.4 724.1L648.2 738.7L649.0 729.9L649.8 744.9L650.6 736.0L651.4 735.7L652.2 746.0L653.0 753.4L653.8 750.7L654.6 743.1L655.4 738.6L656.2 735.3L657.0 750.6L657.8 741.2L658.6 738.3L659.4 720.4L660.2 736.0L661.0 748.8L661.8 750.2L662.6 741.7L663.4 720.6L664.2 746.6L665.0 752.7L665.8 752.7L666.6 745.4L667.4 751.8L668.2 774.7L669.0 750.3L669.8 748.9L670.6 756.9L671.4 759.5L672.2 764.4L673.0 743.9L673.8 734.9L674.6 754.8L675.4 726.9L676.2 759.1L677.0 759.9L677.8 737.7L678.6 758.8L679.4 759.5L680.2 745.8L681.0 752.6L681.8 740.9L682.6 758.4L683.4 771.6L684.2 745.8L685.0 763.5L685.8 757.4L686.6 769.7L687.4 736.8L688.2 774.2L689.0 741.8L689.8 751.2L690.6 763.6L691.4 755.6L692.2 744.2L693.0 762.0L693.8 738.3L694.6 770.7L695.4 772.1L696.2 747.7L697.0 753.7L697.8 730.1L698.6 760.9L699.4 775.1L700.2 746.3L701.0 762.3L701.8 771.6L702.6 747.2L703.4 764.3L704.2 765.8L705.0 763.2L705.8 759.9L706.6 755.6L707.4 768.3L708.2 750.6L709.0 763.7L709.8 748.7L710.6 749.6L711.4 746.8L712.2 760.3L713.0 767.3L713.8 778.7L714.6 764.9L715.4 754.1L716.2 768.8L717.0 764.6L717.8 757.7L718.6 755.5L719.4 762.8L720.2 770.7L721.0 758.1L721.8 758.1L722.6 740.8L723.4 762.2L724.2 782.6L725.0 755.5L725.8 777.0L726.6 766.5L727.4 773.0L728.2 762.3L729.0 766.5L729.8 764.2L730.6 748.0L731.4 761.9L732.2 768.3L733.0 763.8L733.8 760.5L734.6 768.3L735.4 745.1L736.2 764.3L737.0 763.6L737.8 759.9L738.6 766.3L739.4 762.1L740.2 768.2L741.0 788.0L741.8 756.5L742.6 764.2L743.4 771.4L744.2 779.1L745.0 782.0L745.8 752.5L746.6 743.5L747.4 763.2L748.2 762.9L749.0 763.4L749.8 777.4L750.6 761.2L751.4 766.3L752.2 783.9L753.0 782.3L753.8 763.7L754.6 767.4L755.4 759.1L756.2 760.3L757.0 760.5L757.8 751.4L758.6 757.0L759.4 739.5L760.2 764.6L761.0 762.9L761.8 757.2L762.6 766.2L763.4 768.6L764.2 758.0L765.0 777.9L765.8 786.9L766.6 774.9L767.4 766.8L768.2 779.3L769.0 767.4L769.8 771.6L770.6 779.3L771.4 752.4L772.2 773.2L773.0 773.4L773.8 785.3L774.6 783.7L775.4 749.7L776.2 775.3L777.0 762.3L777.8 766.1L778.6 780.8L779.4 751.1L780.2 761.3L781.0 760.5L781.8 774.8L782.6 777.1L783.4 754.1L784.2 774.6L785.0 759.8L785.8 779.8L786.6 766.0L787.4 777.4L788.2 783.2L789.0 768.0L789.8 754.2L790.6 781.8L791.4 780.7L792.2 770.7L793.0 775.1L793.8 756.5L794.6 775.1L795.4 772.9L796.2 775.2L797.0 783.4L797.8 753.3L798.6 789.2L799.4 771.2L800.2 782.3L801.0 775.9L801.8 780.8L802.6 778.1L803.4 765.7L804.2 768.7L805.0 786.0L805.8 784.7L806.6 786.8L807.4 775.9L808.2 764.6L809.0 795.6L809.8 763.0L810.6 787.0L811.4 780.5L812.2 782.0L813.0 794.4L813.8 765.0L814.6 792.4L815.4 770.5L816.2 789.6L817.0 780.0L817.8 792.1L818.6 787.2L819.4 787.0L820.2 783.2L821.0 791.1L821.8 779.4L822.6 780.4L823.4 773.1L824.2 785.1L825.0 783.2L825.8 787.6L826.6 794.9L827.4 791.2L828.2 788.9L829.0 805.8L829.8 797.7L830.6 794.5L831.4 774.6L832.2 792.8L833.0 785.4L833.8 785.9L834.6 798.6L835.4 786.0L836.2 779.3L837.0 800.5L837.8 785.3L838.6 795.9L839.4 802.3L840.2 791.6L841.0 786.2L841.8 790.4L842.6 776.5L843.4 793.6L844.2 815.7L845.0 791.3L845.8 802.2L846.6 799.7L847.4 796.0L848.2 794.7L849.0 797.4L849.8 797.0L850.6 787.6L851.4 799.2L852.2 804.1L853.0 795.8L853.8 805.0L854.6 792.6L855.4 785.5L856.2 778.8L857.0 808.2L857.8 797.4L858.6 797.1L859.4 782.7L860.2 782.5L861.0 807.5L861.8 790.0L862.6 806.6L863.4 782.8L864.2 783.5L865.0 799.6L865.8 812.1L866.6 808.1L867.4 800.7L868.2 802.2L869.0 803.5L869.8 795.1L870.6 815.7L871.4 797.1L872.2 795.2L873.0 782.2L873.8 792.6L874.6 786.7L875.4 796.0L876.2 792.0L877.0 799.0L877.8 783.2L878.6 792.8L879.4 804.4L880.2 802.0L881.0 791.2L881.8 780.2L882.6 792.5L883.4 816.4L884.2 800.2L885.0 789.5L885.8 777.5L886.6 796.7L887.4 802.1L888.2 789.7L889.0 805.5L889.8 786.0L890.6 786.9L891.4 776.9L892.2 795.7L893.0 806.3L893.8 798.2L894.6 789.4L895.4 780.3L896.2 792.2L897.0 807.5L897.8 802.5L898.6 776.9L899.4 791.1L900.2 800.5L901.0 803.3L901.8 801.2L902.6 785.7L903.4 803.3L904.2 785.2L905.0 785.2L905.8 809.3L906.6 781.4L907.4 780.1L908.2 784.0L909.0 792.8L909.8 780.7L910.6 802.9L911.4 782.5L912.2 786.2L913.0 794.6L913.8 801.0L914.6 811.2L915.4 816.2L916.2 788.6L917.0 780.5L917.8 804.3L918.6 797.7L919.4 798.5L920.2 776.3L921.0 770.4L921.8 789.4L922.6 788.0L923.4 807.0L924.2 787.1L925.0 769.6L925.8 788.2L926.6 788.5L927.4 803.3L928.2 787.5L929.0 787.3L929.8 781.3L930.6 809.1L931.4 782.5L932.2 781.8L933.0 787.4L933.8 781.4L934.6 802.1L935.4 796.7L936.2 786.4L937.0 784.3L937.8 796.0L938.6 776.8L939.4 779.4L940.2 783.9L941.0 780.2L941.8 795.8L942.6 787.8L943.4 766.4L944.2 787.2L945.0 809.6L945.8 789.8L946.6 786.1L947.4 766.5L948.2 786.0L949.0 796.0L949.8 796.5L950.6 789.8L951.4 789.2L952.2 776.6L953.0 799.1L953.8 785.8L954.6 784.9L955.4 765.4L956.2 772.5L957.0 789.1L957.8 779.6L958.6 789.2L959.4 774.9L960.2 794.9L961.0 771.6L961.8 776.9L962.6 773.9L963.4 771.9L964.2 779.5L965.0 790.7L965.8 790.2L966.6 802.2L967.4 774.0L968.2 781.0L969.0 786.5L969.8 758.0L970.6 782.9L971.4 761.9L972.2 785.8L973.0 776.7L973.8 779.4L974.6 767.8L975.4 774.7L976.2 767.3L977.0 779.6L977.8 776.3L978.6 780.5L979.4 790.9L980.2 787.5L981.0 779.6L981.8 788.0L982.6 773.4L983.4 768.7L984.2 774.9L985.0 773.4L985.8 783.0L986.6 775.4L987.4 768.3L988.2 765.7L989.0 769.1L989.8 776.3L990.6 770.9L991.4 772.3L992.2 782.0L993.0 772.1L993.8 774.7L994.6 777.6L995.4 772.8L996.2 783.0L997.0 776.1L997.8 768.3L998.6 769.1L999.4 785.7L1000.2 772.9L1001.0 794.2L1001.8 779.4L1002.6 756.8L1003.4 772.0L1004.2 766.9L1005.0 775.1L1005.8 772.9L1006.6 761.3L1007.4 774.4L1008.2 764.9L1009.0 761.9L1009.8 784.6L1010.6 751.3L1011.4 764.6L1012.2 796.9L1013.0 782.4L1013.8 778.5L1014.6 781.0L1015.4 753.4L1016.2 778.5L1017.0 759.6L1017.8 775.7L1018.6 750.4L1019.4 755.7L1020.2 782.1L1021.0 778.0L1021.8 762.4L1022.6 762.1L1023.4 759.0L1024.2 784.0L1025.0 769.1L1025.8 775.9L1026.6 762.6L1027.4 769.6L1028.2 783.0L1029.0 770.1L1029.8 774.2L1030.6 755.7L1031.4 777.4L1032.2 772.5L1033.0 780.1L1033.8 782.9L1034.6 782.8L1035.4 771.3L1036.2 761.2L1037.0 766.3L1037.8 760.7L1038.6 770.6L1039.4 757.1L1040.2 772.5L1041.0 775.6L1041.8 748.2L1042.6 759.4L1043.4 782.8L1044.2 766.1L1045.0 773.7L1045.8 766.0L1046.6 770.9L1047.4 777.8L1048.2 770.6L1049.0 783.7L1049.8 747.7L1050.6 776.9L1051.4 768.4L1052.2 766.1L1053.0 759.6L1053.8 764.5L1054.6 768.9L1055.4 770.2L1056.2 787.3L1057.0 771.2L1057.8 786.8L1058.6 773.8L1059.4 756.9L1060.2 765.7L1061.0 755.4L1061.8 792.2L1062.6 764.8L1063.4 772.1L1064.2 766.5L1065.0 791.0L1065.8 780.4L1066.6 764.6L1067.4 766.3L1068.2 740.8L1069.0 758.3L1069.8 752.1L1070.6 797.0L1071.4 755.7L1072.2 776.6L1073.0 763.1L1073.8 781.9L1074.6 770.2L1075.4 777.8L1076.2 757.9L1077.0 758.1L1077.8 764.9L1078.6 751.1L1079.4 762.7L1080.2 777.9L1081.0 775.9L1081.8 766.7L1082.6 771.4L1083.4 760.2L1084.2 773.6L1085.0 777.0L1085.8 751.8L1086.6 769.6L1087.4 750.5L1088.2 779.9L1089.0 761.8L1089.8 767.4L1090.6 746.3L1091.4 766.3L1092.2 771.3L1093.0 764.4L1093.8 750.8L1094.6 768.3L1095.4 768.4L1096.2 777.3L1097.0 771.1L1097.8 767.5L1098.6 753.7L1099.4 763.8L1100.2 769.2L1101.0 764.3L1101.8 759.6L1102.6 766.9L1103.4 766.1L1104.2 770.2L1105.0 767.0L1105.8 743.0L1106.6 742.9L1107.4 760.1L1108.2 767.2L1109.0 788.0L1109.8 756.8L1110.6 753.9L1111.4 761.7L1112.2 761.7L1113.0 767.2L1113.8 740.4L1114.6 742.2L1115.4 761.7L1116.2 768.8L1117.0 763.5L1117.8 762.0L1118.6 767.3L1119.4 752.4L1120.2 747.7L1121.0 750.4L1121.8 741.1L1122.6 763.3L1123.4 743.2L1124.2 764.5L1125.0 740.6L1125.8 762.9L1126.6 745.5L1127.4 751.6L1128.2 737.1L1129.0 750.5L1129.8 788.0L1130.6 757.9L1131.4 742.2L1132.2 765.8L1133.0 760.2L1133.8 746.3L1134.6 752.0L1135.4 749.8L1136.2 752.3L1137.0 745.2L1137.8 747.3L1138.6 738.8L1139.4 741.0L1140.2 751.9L1141.0 749.7L1141.8 742.9L1142.6 741.3L1143.4 747.0L1144.2 745.5L1145.0 742.0L1145.8 743.3L1146.6 736.9L1147.4 733.0L1148.2 722.3L1149.0 715.6L1149.8 724.2L1150.6 736.8L1151.4 737.9L1152.2 754.8L1153.0 756.5L1153.8 737.8L1154.6 738.2L1155.4 734.5L1156.2 712.6L1157.0 722.3L1157.8 718.0L1158.6 725.2L1159.4 716.6L1160.2 725.5L1161.0 743.8L1161.8 728.2L1162.6 716.7L1163.4 748.5L1164.2 733.2L1165.0 716.3L1165.8 739.7L1166.6 714.2L1167.4 741.1L1168.2 729.3L1169.0 729.6L1169.8 707.2L1170.6 721.5L1171.4 739.7L1172.2 718.4L1173.0 723.5L1173.8 739.7L1174.6 742.4L1175.4 758.6L1176.2 739.7L1177.0 735.8L1177.8 733.1L1178.6 736.1L1179.4 726.4L1180.2 751.4L1181.0 725.9L1181.8 733.9L1182.6 737.3L1183.4 731.0L1184.2 752.7L1185.0 722.5L1185.8 747.9L1186.6 747.8L1187.4 715.5L1188.2 736.7L1189.0 744.3L1189.8 752.2L1190.6 728.1L1191.4 760.0L1192.2 747.9L1193.0 734.6L1193.8 749.8L1194.6 728.3L1195.4 750.7L1196.2 762.9L1197.0 751.2L1197.8 726.8L1198.6 734.9L1199.4 744.1L1200.2 731.4L1201.0 738.7L1201.8 744.7L1202.6 742.5L1203.4 734.2L1204.2 737.6L1205.0 747.8L1205.8 720.7L1206.6 743.0L1207.4 732.5L1208.2 752.5L1209.0 752.0L1209.8 750.6L1210.6 734.8L1211.4 745.3L1212.2 730.6L1213.0 741.9L1213.8 738.9L1214.6 733.6L1215.4 726.0L1216.2 743.8L1217.0 776.9L1217.8 739.5L1218.6 730.4L1219.4 724.5L1220.2 768.3L1221.0 746.8L1221.8 739.9L1222.6 717.6L1223.4 742.2L1224.2 734.6L1225.0 745.4L1225.8 764.3L1226.6 735.4L1227.4 756.4L1228.2 729.8L1229.0 743.3L1229.8 731.7L1230.6 723.8L1231.4 730.9L1232.2 746.9L1233.0 743.0L1233.8 742.3L1234.6 758.2L1235.4 760.4L1236.2 751.3L1237.0 752.9L1237.8 748.9L1238.6 711.0L1239.4 731.5L1240.2 733.5L1241.0 757.3L1241.8 755.7L1242.6 749.4L1243.4 746.2L1244.2 738.9L1245.0 757.1L1245.8 738.5L1246.6 739.7L1247.4 746.5L1248.2 732.5L1249.0 733.6L1249.8 750.0L1250.6 747.9L1251.4 754.8L1252.2 756.2L1253.0 729.8L1253.8 743.7L1254.6 718.7L1255.4 755.5L1256.2 738.3L1257.0 737.0L1257.8 745.8L1258.6 739.4L1259.4 742.6L1260.2 732.7L1261.0 727.9L1261.8 723.2L1262.6 742.1L1263.4 740.3L1264.2 749.2L1265.0 732.5L1265.8 750.2L1266.6 746.1L1267.4 738.0L1268.2 733.7L1269.0 720.4L1269.8 741.6L1270.6 747.0L1271.4 726.2L1272.2 737.8L1273.0 756.9L1273.8 735.8L1274.6 730.2L1275.4 724.5L1276.2 746.3L1277.0 747.1L1277.8 737.4L1278.6 734.5L1279.4 739.8L1280.2 738.3L1281.0 743.8L1281.8 743.9L1282.6 708.4L1283.4 723.6L1284.2 725.3L1285.0 754.1L1285.8 735.7L1286.6 728.4L1287.4 748.1L1288.2 739.4L1289.0 714.5L1289.8 729.4L1290.6 738.0L1291.4 724.8L1292.2 732.5L1293.0 732.2L1293.8 733.9L1294.6 751.3L1295.4 733.0L1296.2 744.1L1297.0 722.7L1297.8 738.2L1298.6 736.2L1299.4 733.3L1300.2 720.1L1301.0 719.4L1301.8 730.0L1302.6 732.6L1303.4 751.6L1304.2 745.5L1305.0 735.3L1305.8 731.7L1306.6 744.5L1307.4 726.2L1308.2 754.4L1309.0 730.0L1309.8 733.9L1310.6 750.7L1311.4 753.2L1312.2 740.6L1313.0 762.7L1313.8 744.0L1314.6 750.6L1315.4 749.7L1316.2 742.6L1317.0 745.4L1317.8 756.7L1318.6 735.6L1319.4 757.4L1320.2 740.4L1321.0 745.2L1321.8 739.2L1322.6 742.8L1323.4 745.7L1324.2 732.8L1325.0 772.5L1325.8 742.8L1326.6 727.9L1327.4 734.1L1328.2 741.7L1329.0 748.4L1329.8 757.4L1330.6 750.6L1331.4 753.0L1332.2 740.8L1333.0 729.4L1333.8 746.6L1334.6 742.9L1335.4 749.2L1336.2 777.4L1337.0 756.7L1337.8 773.7L1338.6 742.0L1339.4 737.5L1340.2 750.1L1341.0 738.4L1341.8 740.8L1342.6 757.1L1343.4 747.9L1344.2 755.4L1345.0 767.6L1345.8 754.0L1346.6 754.1L1347.4 758.1L1348.2 738.6L1349.0 758.6L1349.8 758.5L1350.6 748.6L1351.4 752.7L1352.2 747.5L1353.0 761.2L1353.8 745.1L1354.6 759.5L1355.4 762.7L1356.2 761.2L1357.0 769.5L1357.8 763.0L1358.6 756.5L1359.4 748.9L1360.2 771.4L1361.0 774.8L1361.8 770.2L1362.6 752.1L1363.4 766.3L1364.2 749.1L1365.0 770.4L1365.8 759.2L1366.6 735.6L1367.4 764.6L1368.2 755.1L1369.0 771.0L1369.8 755.2L1370.6 776.6L1371.4 767.9L1372.2 763.5L1373.0 770.6L1373.8 765.6L1374.6 768.4L1375.4 753.7L1376.2 786.8L1377.0 763.2L1377.8 758.6L1378.6 759.3L1379.4 766.3L1380.2 761.6L1381.0 759.6L1381.8 780.3L1382.6 769.1L1383.4 783.5L1384.2 770.3L1385.0 759.4L1385.8 754.8L1386.6 757.8L1387.4 768.5L1388.2 771.8L1389.0 782.0L1389.8 762.8L1390.6 769.2L1391.4 778.2L1392.2 762.9L1393.0 762.5L1393.8 778.7L1394.6 779.9L1395.4 780.3L1396.2 776.9L1397.0 767.5L1397.8 765.9L1398.6 776.8L1399.4 766.1L1400.2 777.6L1401.0 773.5L1401.8 791.4L1402.6 769.0L1403.4 775.2L1404.2 769.9L1405.0 756.7L1405.8 791.6L1406.6 763.1L1407.4 789.4L1408.2 781.2L1409.0 759.7L1409.8 762.6L1410.6 778.0L1411.4 766.0L1412.2 769.5L1413.0 769.9L1413.8 790.1L1414.6 776.9L1415.4 782.4L1416.2 774.4L1417.0 775.1L1417.8 789.0L1418.6 763.7L1419.4 778.6L1420.2 777.6L1421.0 785.5L1421.8 779.8L1422.6 779.2L1423.4 792.4L1424.2 782.9L1425.0 783.0L1425.8 782.9L1426.6 769.5L1427.4 773.5L1428.2 784.3L1429.0 792.2L1429.8 789.1L1430.6 785.6L1431.4 790.7L1432.2 786.1L1433.0 777.7L1433.8 784.6L1434.6 786.6L1435.4 772.9L1436.2 782.5L1437.0 773.2L1437.8 779.9L1438.6 788.3L1439.4 769.3L1440.2 788.1L1441.0 794.8L1441.8 779.3L1442.6 783.0L1443.4 787.2L1444.2 792.7L1445.0 784.5L1445.8 780.3L1446.6 807.1L1447.4 782.4L1448.2 793.8L1449.0 786.2L1449.8 784.5L1450.6 779.2L1451.4 779.5L1452.2 791.7L1453.0 788.4L1453.8 799.7L1454.6 774.5L1455.4 788.7L1456.2 783.2L1457.0 794.6L1457.8 808.3L1458.6 780.3L1459.4 792.2L1460.2 793.1L1461.0 793.7L1461.8 800.4L1462.6 785.6L1463.4 778.4L1464.2 774.2L1465.0 785.8L1465.8 786.3L1466.6 787.6L1467.4 795.3L1468.2 790.0L1469.0 792.9L1469.8 793.5L1470.6 798.0L1471.4 796.7L1472.2 797.8L1473.0 793.7L1473.8 806.3L1474.6 800.2L1475.4 777.2L1476.2 793.5L1477.0 785.2L1477.8 803.3L1478.6 816.3L1479.4 784.3L1480.2 793.7L1481.0 813.6L1481.8 803.0L1482.6 789.7L1483.4 776.3L1484.2 773.4L1485.0 800.3L1485.8 793.7L1486.6 781.6L1487.4 780.4L1488.2 786.5L1489.0 817.2L1489.8 791.0L1490.6 809.1L1491.4 813.1L1492.2 789.0L1493.0 802.9L1493.8 814.6L1494.6 787.6L1495.4 792.0L1496.2 785.5L1497.0 798.7L1497.8 805.7L1498.6 802.6L1499.4 795.0L1500.2 806.0L1501.0 790.7L1501.8 786.2L1502.6 795.1L1503.4 796.6L1504.2 797.0L1505.0 797.0L1505.8 815.5L1506.6 787.0L1507.4 806.8L1508.2 802.5L1509.0 807.1L1509.8 792.5L1510.6 798.6L1511.4 791.9L1512.2 788.2L1513.0 808.7L1513.8 768.1L1514.6 799.5L1515.4 817.4L1516.2 809.4L1517.0 809.5L1517.8 800.7L1518.6 789.3L1519.4 801.2L1520.2 804.3L1521.0 800.3L1521.8 799.4L1522.6 805.7L1523.4 802.9L1524.2 795.7L1525.0 801.3L1525.8 794.8L1526.6 810.4L1527.4 814.3L1528.2 804.8L1529.0 812.2L1529.8 791.2L1530.6 806.0L1531.4 807.5L1532.2 797.4L1533.0 812.3L1533.8 783.9L1534.6 795.8L1535.4 816.4L1536.2 824.0L1537.0 798.4L1537.8 803.2L1538.6 810.7L1539.4 795.3L1540.2 797.4L1541.0 800.4L1541.8 810.3L1542.6 817.0L1543.4 798.5L1544.2 808.6L1545.0 793.8L1545.8 809.5L1546.6 798.2L1547.4 804.3L1548.2 808.8L1549.0 808.4L1549.8 817.6L1550.6 795.4L1551.4 813.3L1552.2 813.9L1553.0 816.4L1553.8 815.5L1554.6 803.1L1555.4 810.2L1556.2 809.0L1557.0 816.3L1557.8 810.8L1558.6 811.3L1559.4 809.9L1560.2 819.3L1561.0 816.1L1561.8 829.4L1562.6 820.9L1563.4 814.8L1564.2 801.7L1565.0 801.5L1565.8 816.6L1566.6 810.7L1567.4 799.1L1568.2 822.1L1569.0 797.8L1569.8 831.3L1570.6 810.0L1571.4 830.3L1572.2 816.1L1573.0 820.4L1573.8 816.6L1574.6 805.0L1575.4 804.7L1576.2 807.9L1577.0 829.3L1577.8 816.3L1578.6 819.8L1579.4 817.6L1580.2 828.6L1581.0 811.1L1581.8 823.6L1582.6 813.5L1583.4 811.0L1584.2 827.4L1585.0 814.4L1585.8 824.5L1586.6 827.4L1587.4 830.8L1588.2 810.3L1589.0 828.3L1589.8 815.4L1590.6 818.0L1591.4 832.3L1592.2 814.4L1593.0 830.0L1593.8 825.1L1594.6 816.7L1595.4 830.9L1596.2 816.7L1597.0 814.1L1597.8 810.4L1598.6 829.7L1599.4 817.8L1600.2 814.0L1601.0 819.0L1601.8 828.3L1602.6 838.4L1603.4 846.1L1604.2 827.4L1605.0 828.0L1605.8 824.6L1606.6 839.7L1607.4 823.2L1608.2 821.4L1609.0 837.3L1609.8 822.6L1610.6 831.7L1611.4 830.9L1612.2 836.0L1613.0 838.7L1613.8 824.7L1614.6 821.2L1615.4 837.3L1616.2 820.0L1617.0 840.9L1617.8 820.6L1618.6 852.7L1619.4 825.8L1620.2 830.8L1621.0 840.8L1621.8 845.6L1622.6 831.5L1623.4 841.3L1624.2 850.2L1625.0 842.2L1625.8 833.6L1626.6 834.5L1627.4 848.5L1628.2 837.8L1629.0 845.7L1629.8 829.5L1630.6 831.1L1631.4 839.5L1632.2 848.7L1633.0 826.1L1633.8 839.3L1634.6 836.9L1635.4 856.0L1636.2 843.2L1637.0 839.1L1637.8 843.6L1638.6 826.9L1639.4 838.3L1640.2 840.6L1641.0 833.1L1641.8 826.1L1642.6 844.9L1643.4 836.1L1644.2 853.3L1645.0 829.6L1645.8 857.3L1646.6 829.9L1647.4 839.4L1648.2 841.5L1649.0 846.6L1649.8 840.9L1650.6 853.9L1651.4 833.6L1652.2 848.1L1653.0 838.1L1653.8 842.3L1654.6 839.5L1655.4 840.6L1656.2 851.0L1657.0 837.8L1657.8 854.2L1658.6 847.0L1659.4 848.1L1660.2 848.6L1661.0 858.8L1661.8 838.7L1662.6 855.1L1663.4 848.6L1664.2 838.9L1665.0 850.8L1665.8 857.5L1666.6 851.3L1667.4 849.8L1668.2 853.1L1669.0 854.3L1669.8 849.1L1670.6 831.6L1671.4 845.8L1672.2 852.0L1673.0 844.3L1673.8 851.5L1674.6 853.3L1675.4 851.1L1676.2 840.7L1677.0 850.9L1677.8 844.3L1678.6 848.8L1679.4 859.2L1680.2 854.7L1681.0 853.6L1681.8 848.8L1682.6 852.3L1683.4 867.7L1684.2 855.5L1685.0 848.9L1685.8 852.0L1686.6 855.2L1687.4 842.7L1688.2 851.9L1689.0 848.5L1689.8 858.7L1690.6 854.5L1691.4 859.3L1692.2 849.2L1693.0 870.8L1693.8 845.1L1694.6 847.6L1695.4 852.1L1696.2 842.0L1697.0 842.8L1697.8 845.1L1698.6 857.8L1699.4 836.2L1700.2 856.1L1701.0 875.3L1701.8 847.8L1702.6 847.2L1703.4 862.6L1704.2 853.6L1705.0 855.0L1705.8 852.4L1706.6 847.5L1707.4 844.5L1708.2 865.9L1709.0 850.9L1709.8 853.4L1710.6 850.1L1711.4 862.3L1712.2 852.4L1713.0 836.3L1713.8 853.2L1714.6 863.7L1715.4 859.6L1716.2 865.1L1717.0 872.8L1717.8 841.7L1718.6 859.4L1719.4 860.1L1720.2 850.2L1721.0 860.8L1721.8 858.5L1722.6 868.3L1723.4 847.7L1724.2 859.4L1725.0 853.2L1725.8 861.8L1726.6 852.3L1727.4 860.4L1728.2 858.4L1729.0 851.4L1729.8 860.5L1730.6 859.6L1731.4 848.5L1732.2 871.0L1733.0 860.9L1733.8 863.8L1734.6 848.8L1735.4 861.5L1736.2 875.0L1737.0 864.9L1737.8 874.4L1738.6 850.9L1739.4 864.0L1740.2 858.5L1741.0 857.8L1741.8 845.4L1742.6 855.7L1743.4 869.1L1744.2 858.3L1745.0 857.4L1745.8 851.3L1746.6 875.7L1747.4 861.7L1748.2 870.8L1749.0 872.0L1749.8 869.3L1750.6 865.3L1751.4 861.5L1752.2 870.9L1753.0 853.4L1753.8 855.5L1754.6 865.5L1755.4 860.5L1756.2 860.6L1757.0 869.9L1757.8 863.3L1758.6 869.5L1759.4 871.7L1760.2 867.8L1761.0 875.3L1761.8 848.0L1762.6 870.5L1763.4 869.9L1764.2 862.3L1765.0 873.0L1765.8 865.6L1766.6 871.9L1767.4 879.9L1768.2 858.9L1769.0 855.7L1769.8 864.7L1770.6 872.4L1771.4 862.5L1772.2 856.3L1773.0 869.3L1773.8 860.3L1774.6 860.6L1775.4 871.9L1776.2 863.7L1777.0 866.9L1777.8 875.3L1778.6 869.5L1779.4 866.1L1780.2 870.1L1781.0 875.1L1781.8 873.1L1782.6 860.5L1783.4 856.2L1784.2 862.8L1785.0 866.2L1785.8 870.1L1786.6 859.2L1787.4 872.9L1788.2 859.1L1789.0 871.5L1789.8 869.4L1790.6 873.9L1791.4 866.7L1792.2 874.1L1793.0 872.7L1793.8 875.2L1794.6 864.9L1795.4 858.8L1796.2 863.6L1797.0 866.6L1797.8 860.1L1798.6 861.7L1799.4 863.9L1800.2 872.5L1801.0 874.6L1801.8 875.0L1802.6 874.5L1803.4 873.4L1804.2 854.4L1805.0 851.9L1805.8 863.2L1806.6 877.7L1807.4 866.1L1808.2 874.5L1809.0 876.4L1809.8 864.4L1810.6 878.7L1811.4 863.3L1812.2 871.7L1813.0 871.2L1813.8 865.1L1814.6 867.3L1815.4 861.5L1816.2 864.3L1817.0 877.9L1817.8 885.3L1818.6 864.7L1819.4 872.6L1820.2 863.3L1821.0 878.2L1821.8 882.0L1822.6 867.7L1823.4 882.0L1824.2 862.0L1825.0 864.8L1825.8 884.5L1826.6 868.6L1827.4 863.2L1828.2 853.6L1829.0 863.1L1829.8 867.7L1830.6 870.4L1831.4 869.4L1832.2 877.9L1833.0 875.5L1833.8 874.8L1834.6 865.9L1835.4 873.1L1836.2 869.4L1837.0 880.9L1837.8 863.0L1838.6 878.0L1839.4 871.8L1840.2 871.2L1841.0 864.8L1841.8 879.9L1842.6 876.7L1843.4 857.6L1844.2 873.3L1845.0 869.0L1845.8 864.9L1846.6 875.0L1847.4 869.5L1848.2 868.6L1849.0 859.9L1849.8 871.4L1850.6 886.5L1851.4 868.6L1852.2 867.6L1853.0 876.8L1853.8 880.0L1854.6 872.2L1855.4 867.7L1856.2 874.9L1857.0 867.3L1857.8 862.7L1858.6 877.6L1859.4 870.8L1860.2 880.6L1861.0 874.0L1861.8 861.2L1862.6 868.1L1863.4 872.7L1864.2 886.2L1865.0 868.5L1865.8 877.6L1866.6 868.2L1867.4 867.1L1868.2 855.3L1869.0 876.1L1869.8 881.2L1870.6 869.9L1871.4 885.9L1872.2 857.4L1873.0 869.3L1873.8 872.3L1874.6 875.5L1875.4 880.1L1876.2 874.0L1877.0 875.1L1877.8 869.6L1878.6 872.8L1879.4 865.5L1880.2 863.6L1881.0 877.4L1881.8 856.1L1882.6 869.4L1883.4 876.9L1884.2 879.6L1885.0 868.0L1885.8 877.7L1886.6 864.7L1887.4 869.4L1888.2 858.1L1889.0 869.6L1889.8 872.6L1890.6 861.3L1891.4 875.6L1892.2 857.5L1893.0 868.9L1893.8 872.2" stroke="#f00"/>
<path d="M333.0 1113.8L333.8 1110.4L334.6 1108.5L335.4 1111.0L336.2 1107.7L337.0 1106.9L337.8 1107.2L338.6 1106.5L339.4 1104.5L340.2 1103.8L341.0 1102.6L341.8 1092.9L342.6 1081.6L343.4 1071.5L344.2 1062.0L345.0 1052.4L345.8 1042.7L346.6 1032.0L347.4 1021.8L348.2 1010.4L349.0 999.0L349.8 988.3L350.6 976.8L351.4 965.5L352.2 955.8L353.0 944.7L353.8 935.8L354.6 924.6L355.4 910.2L356.2 889.8L357.0 870.3L357.8 853.7L358.6 840.9L359.4 829.6L360.2 818.0L361.0 812.4L361.8 805.2L362.6 800.6L363.4 792.7L364.2 790.2L365.0 785.4L365.8 766.8L366.6 749.4L367.4 732.6L368.2 718.2L369.0 702.8L369.8 689.8L370.6 676.4L371.4 664.5L372.2 652.8L373.0 647.3L373.8 640.1L374.6 633.0L375.4 626.1L376.2 614.0L377.0 599.8L377.8 586.9L378.6 573.5L379.4 562.5L380.2 557.0L381.0 550.5L381.8 544.5L382.6 537.6L383.4 531.9L384.2 528.3L385.0 521.3L385.8 515.6L386.6 512.3L387.4 508.4L388.2 502.9L389.0 500.7L389.8 496.2L390.6 491.9L391.4 489.0L392.2 486.2L393.0 482.8L393.8 479.3L394.6 488.7L395.4 515.0L396.2 536.5L397.0 542.8L397.8 547.7L398.6 553.5L399.4 558.9L400.2 565.2L401.0 573.1L401.8 581.4L402.6 588.8L403.4 596.4L404.2 602.0L405.0 604.1L405.8 606.7L406.6 609.9L407.4 614.3L408.2 615.5L409.0 618.4L409.8 630.6L410.6 648.3L411.4 661.3L412.2 666.0L413.0 668.6L413.8 675.1L414.6 681.2L415.4 691.3L416.2 698.6L417.0 691.9L417.8 702.2L418.6 705.7L419.4 696.7L420.2 701.4L421.0 712.0L421.8 709.0L422.6 710.6L423.4 688.0L424.2 740.1L425.0 744.6L425.8 741.9L426.6 727.2L427.4 733.9L428.2 724.6L429.0 725.2L429.8 745.1L430.6 696.7L431.4 723.2L432.2 741.2L433.0 745.0L433.8 733.3L434.6 738.6L435.4 750.4L436.2 746.1L437.0 741.1L437.8 750.3L438.6 736.3L439.4 731.0L440.2 734.1L441.0 757.1L441.8 755.8L442.6 750.3L443.4 744.4L444.2 735.1L445.0 775.5L445.8 756.9L446.6 753.9L447.4 745.3L448.2 750.0L449.0 765.7L449.8 755.0L450.6 756.2L451.4 748.5L452.2 741.5L453.0 748.1L453.8 753.4L454.6 763.1L455.4 756.4L456.2 779.2L457.0 767.9L457.8 764.3L458.6 760.1L459.4 782.3L460.2 766.8L461.0 765.8L461.8 747.2L462.6 752.3L463.4 746.2L464.2 765.6L465.0 764.0L465.8 767.9L466.6 772.7L467.4 774.9L468.2 766.1L469.0 769.8L469.8 765.9L470.6 757.3L471.4 764.3L472.2 762.1L473.0 748.2L473.8 770.0L474.6 755.7L475.4 770.3L476.2 756.0L477.0 771.7L477.8 779.1L478.6 777.5L479.4 761.0L480.2 791.1L481.0 776.8L481.8 774.2L482.6 792.6L483.4 794.7L484.2 797.4L485.0 735.4L485.8 775.5L486.6 770.3L487.4 786.4L488.2 786.9L489.0 814.6L489.8 777.9L490.6 796.9L491.4 802.0L492.2 781.0L493.0 791.2L493.8 785.2L494.6 797.4L495.4 763.0L496.2 781.9L497.0 799.2L497.8 772.9L498.6 772.4L499.4 793.9L500.2 809.0L501.0 792.2L501.8 805.3L502.6 794.5L503.4 788.2L504.2 794.6L505.0 792.7L505.8 810.7L506.6 782.8L507.4 803.8L508.2 809.0L509.0 801.6L509.8 804.4L510.6 822.0L511.4 807.5L512.2 804.0L513.0 818.6L513.8 802.7L514.6 823.1L515.4 843.1L516.2 820.3L517.0 842.2L517.8 806.6L518.6 823.7L519.4 831.1L520.2 833.5L521.0 830.8L521.8 810.2L522.6 842.1L523.4 819.3L524.2 845.3L525.0 850.3L525.8 830.1L526.6 844.8L527.4 854.2L528.2 840.1L529.0 845.0L529.8 850.9L530.6 864.4L531.4 854.9L532.2 872.9L533.0 862.6L533.8 853.1L534.6 853.5L535.4 859.5L536.2 861.8L537.0 870.9L537.8 866.8L538.6 872.2L539.4 868.1L540.2 866.0L541.0 875.2L541.8 867.1L542.6 862.3L543.4 886.3L544.2 868.7L545.0 871.0L545.8 897.6L546.6 896.6L547.4 862.2L548.2 878.3L549.0 900.4L549.8 912.3L550.6 907.7L551.4 891.4L552.2 889.2L553.0 889.6L553.8 911.1L554.6 916.1L555.4 899.2L556.2 895.8L557.0 879.4L557.8 915.8L558.6 881.8L559.4 898.8L560.2 896.1L561.0 921.2L561.8 899.1L562.6 918.4L563.4 910.2L564.2 905.1L565.0 904.0L565.8 929.8L566.6 891.1L567.4 919.0L568.2 904.1L569.0 928.5L569.8 913.0L570.6 912.4L571.4 921.3L572.2 911.6L573.0 914.5L573.8 920.4L574.6 933.3L575.4 923.5L576.2 934.5L577.0 929.0L577.8 912.9L578.6 911.2L579.4 914.7L580.2 933.5L581.0 932.7L581.8 925.0L582.6 946.6L583.4 916.2L584.2 924.2L585.0 932.7L585.8 956.1L586.6 932.4L587.4 935.9L588.2 942.8L589.0 934.1L589.8 933.9L590.6 923.4L591.4 934.3L592.2 951.1L593.0 948.5L593.8 955.6L594.6 948.0L595.4 936.5L596.2 943.8L597.0 943.2L597.8 952.8L598.6 959.3L599.4 942.4L600.2 932.8L601.0 955.6L601.8 958.6L602.6 964.9L603.4 933.0L604.2 947.8L605.0 946.8L605.8 966.9L606.6 956.9L607.4 948.9L608.2 964.4L609.0 970.1L609.8 968.9L610.6 958.7L611.4 965.6L612.2 976.6L613.0 968.9L613.8 970.9L614.6 949.6L615.4 980.1L616.2 973.9L617.0 978.0L617.8 969.1L618.6 954.6L619.4 978.6L620.2 976.0L621.0 986.2L621.8 964.0L622.6 971.7L623.4 976.0L624.2 987.5L625.0 983.5L625.8 973.6L626.6 972.9L627.4 983.9L628.2 995.2L629.0 1000.2L629.8 970.6L630.6 993.3L631.4 977.7L632.2 983.6L633.0 1000.9L633.8 983.2L634.6 1005.4L635.4 987.3L636.2 1000.8L637.0 987.0L637.8 982.2L638.6 994.5L639.4 969.6L640.2 1008.4L641.0 993.1L641.8 999.1L642.6 973.8L643.4 985.0L644.2 987.3L645.0 1001.4L645.8 998.1L646.6 999.9L647.4 1005.2L648.2 989.1L649.0 1002.5L649.8 1010.0L650.6 988.6L651.4 998.0L652.2 997.3L653.0 981.9L653.8 997.1L654.6 1007.8L655.4 998.8L656.2 996.4L657.0 1003.3L657.8 1008.6L658.6 997.3L659.4 1004.3L660.2 1000.5L661.0 991.5L661.8 1015.8L662.6 984.1L663.4 1018.3L664.2 1008.6L665.0 991.2L665.8 1013.8L666.6 1005.5L667.4 1007.6L668.2 1001.1L669.0 1002.8L669.8 1023.8L670.6 1020.1L671.4 1013.4L672.2 1011.3L673.0 986.6L673.8 995.3L674.6 1019.5L675.4 1005.4L676.2 1007.5L677.0 1013.7L677.8 991.2L678.6 994.5L679.4 1008.1L680.2 1000.7L681.0 1017.4L681.8 1008.0L682.6 1018.8L683.4 1015.9L684.2 1010.7L685.0 1017.2L685.8 998.2L686.6 1016.2L687.4 1021.0L688.2 1033.8L689.0 991.7L689.8 1002.3L690.6 1005.4L691.4 1013.8L692.2 1010.8L693.0 1002.5L693.8 1006.5L694.6 1005.9L695.4 999.9L696.2 1011.7L697.0 985.6L697.8 1010.7L698.6 1012.4L699.4 1017.1L700.2 1012.8L701.0 999.3L701.8 1005.6L702.6 1011.1L703.4 1023.9L704.2 1014.4L705.0 1018.1L705.8 1032.6L706.6 1013.7L707.4 1010.1L708.2 988.7L709.0 1002.5L709.8 987.8L710.6 993.7L711.4 1006.5L712.2 997.4L713.0 1008.5L713.8 1013.4L714.6 1009.4L715.4 1014.6L716.2 1012.4L717.0 1019.6L717.8 1015.7L718.6 996.1L719.4 999.1L720.2 984.8L721.0 1010.9L721.8 1021.5L722.6 986.5L723.4 1006.8L724.2 1003.8L725.0 1009.2L725.8 987.9L726.6 1003.9L727.4 1003.8L728.2 978.3L729.0 1020.4L729.8 996.6L730.6 1012.2L731.4 1009.9L732.2 1004.9L733.0 1026.4L733.8 995.3L734.6 1004.3L735.4 991.2L736.2 993.6L737.0 966.7L737.8 1008.7L738.6 988.3L739.4 996.8L740.2 997.6L741.0 995.5L741.8 1011.4L742.6 995.2L743.4 1006.2L744.2 1007.4L745.0 1006.1L745.8 1007.6L746.6 995.2L747.4 993.7L748.2 981.2L749.0 1012.5L749.8 975.3L750.6 1006.8L751.4 992.6L752.2 1009.7L753.0 1003.8L753.8 1008.4L754.6 988.6L755.4 981.9L756.2 1015.1L757.0 979.1L757.8 977.2L758.6 991.4L759.4 997.3L760.2 991.0L761.0 1001.9L761.8 1011.5L762.6 976.0L763.4 1026.7L764.2 992.4L765.0 995.3L765.8 972.0L766.6 1006.5L767.4 1002.7L768.2 986.1L769.0 1018.7L769.8 994.0L770.6 1002.1L771.4 1015.1L772.2 1017.4L773.0 993.7L773.8 986.2L774.6 1004.4L775.4 985.8L776.2 998.7L777.0 995.3L777.8 1004.9L778.6 1005.3L779.4 1022.8L780.2 1010.4L781.0 1027.9L781.8 999.1L782.6 983.0L783.4 995.7L784.2 991.2L785.0 994.5L785.8 993.1L786.6 1007.8L787.4 1023.9L788.2 1023.5L789.0 1016.3L789.8 1030.4L790.6 1020.9L791.4 989.0L792.2 999.7L793.0 1007.8L793.8 1009.2L794.6 1019.5L795.4 1013.9L796.2 1026.4L797.0 1038.1L797.8 1030.2L798.6 1029.2L799.4 1032.1L800.2 1025.4L801.0 1031.6L801.8 1020.2L802.6 1012.9L803.4 1022.9L804.2 1017.7L805.0 1019.2L805.8 1035.9L806.6 1051.3L807.4 1031.7L808.2 1034.1L809.0 1037.1L809.8 1037.6L810.6 1028.7L811.4 1023.3L812.2 1058.9L813.0 1045.0L813.8 1028.5L814.6 1037.0L815.4 1029.5L816.2 1043.5L817.0 1048.4L817.8 1028.0L818.6 1048.9L819.4 1057.8L820.2 1070.8L821.0 1062.3L821.8 1048.5L822.6 1056.6L823.4 1050.1L824.2 1043.9L825.0 1051.3L825.8 1063.6L826.6 1068.8L827.4 1056.4L828.2 1058.7L829.0 1043.3L829.8 1066.2L830.6 1056.9L831.4 1059.4L832.2 1053.4L833.0 1080.4L833.8 1055.6L834.6 1061.9L835.4 1056.9L836.2 1080.3L837.0 1048.4L837.8 1073.8L838.6 1051.8L839.4 1070.1L840.2 1080.4L841.0 1061.4L841.8 1068.0L842.6 1062.4L843.4 1071.9L844.2 1079.1L845.0 1088.6L845.8 1057.3L846.6 1052.1L847.4 1079.9L848.2 1062.1L849.0 1071.0L849.8 1045.2L850.6 1064.2L851.4 1063.7L852.2 1069.9L853.0 1062.4L853.8 1082.4L854.6 1074.7L855.4 1086.5L856.2 1096.4L857.0 1069.7L857.8 1075.4L858.6 1082.9L859.4 1072.6L860.2 1056.0L861.0 1065.9L861.8 1068.3L862.6 1073.5L863.4 1066.5L864.2 1082.0L865.0 1076.0L865.8 1072.8L866.6 1068.1L867.4 1070.7L868.2 1077.9L869.0 1078.0L869.8 1079.6L870.6 1080.6L871.4 1086.2L872.2 1074.4L873.0 1061.2L873.8 1071.6L874.6 1073.8L875.4 1076.0L876.2 1073.4L877.0 1068.1L877.8 1069.5L878.6 1092.3L879.4 1076.9L880.2 1075.3L881.0 1068.2L881.8 1081.4L882.6 1085.6L883.4 1077.2L884.2 1082.4L885.0 1094.3L885.8 1067.7L886.6 1066.2L887.4 1066.9L888.2 1073.3L889.0 1077.8L889.8 1044.2L890.6 1059.0L891.4 1082.3L892.2 1085.5L893.0 1087.9L893.8 1064.4L894.6 1056.7L895.4 1086.3L896.2 1081.2L897.0 1085.4L897.8 1078.2L898.6 1085.5L899.4 1072.2L900.2 1083.4L901.0 1074.2L901.8 1076.6L902.6 1071.4L903.4 1077.4L904.2 1070.0L905.0 1067.3L905.8 1069.3L906.6 1082.8L907.4 1073.5L908.2 1073.7L909.0 1049.8L909.8 1086.2L910.6 1078.4L911.4 1070.4L912.2 1088.2L913.0 1070.4L913.8 1072.9L914.6 1087.9L915.4 1066.9L916.2 1061.3L917.0 1065.7L917.8 1079.4L918.6 1069.6L919.4 1075.7L920.2 1081.5L921.0 1059.4L921.8 1076.9L922.6 1077.0L923.4 1077.3L924.2 1088.9L925.0 1066.3L925.8 1069.5L926.6 1066.4L927.4 1074.8L928.2 1068.6L929.0 1062.6L929.8 1066.6L930.6 1079.1L931.4 1066.2L932.2 1089.2L933.0 1070.8L933.8 1088.0L934.6 1084.9L935.4 1065.7L936.2 1078.2L937.0 1072.7L937.8 1066.5L938.6 1048.3L939.4 1055.8L940.2 1068.3L941.0 1079.5L941.8 1060.3L942.6 1068.9L943.4 1093.8L944.2 1080.7L945.0 1057.1L945.8 1076.9L946.6 1087.3L947.4 1068.3L948.2 1069.2L949.0 1071.8L949.8 1062.0L950.6 1048.2L951.4 1064.4L952.2 1054.3L953.0 1065.7L953.8 1059.8L954.6 1062.5L955.4 1071.8L956.2 1063.1L957.0 1082.7L957.8 1068.5L958.6 1073.6L959.4 1076.4L960.2 1069.9L961.0 1065.4L961.8 1064.4L962.6 1052.3L963.4 1052.2L964.2 1084.9L965.0 1064.6L965.8 1065.2L966.6 1062.8L967.4 1080.2L968.2 1057.2L969.0 1084.3L969.8 1069.2L970.6 1066.9L971.4 1072.4L972.2 1064.0L973.0 1053.1L973.8 1064.3L974.6 1047.9L975.4 1066.7L976.2 1071.5L977.0 1069.8L977.8 1049.2L978.6 1053.6L979.4 1071.1L980.2 1088.5L981.0 1074.1L981.8 1056.3L982.6 1066.8L983.4 1078.2L984.2 1063.4L985.0 1042.1L985.8 1056.2L986.6 1073.5L987.4 1075.6L988.2 1065.1L989.0 1068.9L989.8 1065.9L990.6 1063.0L991.4 1048.2L992.2 1062.6L993.0 1061.4L993.8 1078.8L994.6 1045.0L995.4 1060.8L996.2 1064.1L997.0 1043.7L997.8 1057.2L998.6 1071.2L999.4 1060.0L1000.2 1076.1L1001.0 1089.0L1001.8 1070.3L1002.6 1054.0L1003.4 1054.4L1004.2 1061.8L1005.0 1066.8L1005.8 1036.2L1006.6 1055.7L1007.4 1065.4L1008.2 1063.7L1009.0 1068.1L1009.8 1073.5L1010.6 1061.7L1011.4 1061.1L1012.2 1068.1L1013.0 1063.7L1013.8 1060.8L1014.6 1061.0L1015.4 1050.0L1016.2 1055.7L1017.0 1075.3L1017.8 1058.0L1018.6 1060.8L1019.4 1043.7L1020.2 1074.6L1021.0 1041.5L1021.8 1054.4L1022.6 1080.4L1023.4 1053.3L1024.2 1056.2L1025.0 1064.5L1025.8 1083.1L1026.6 1069.5L1027.4 1038.8L1028.2 1066.4L1029.0 1064.2L1029.8 1061.8L1030.6 1072.8L1031.4 1053.0L1032.2 1048.7L1033.0 1047.1L1033.8 1048.2L1034.6 1052.8L1035.4 1045.2L1036.2 1065.6L1037.0 1053.9L1037.8 1061.5L1038.6 1064.7L1039.4 1079.9L1040.2 1037.9L1041.0 1065.2L1041.8 1054.2L1042.6 1048.4L1043.4 1057.0L1044.2 1061.3L1045.0 1061.4L1045.8 1054.0L1046.6 1059.0L1047.4 1066.8L1048.2 1053.4L1049.0 1063.0L1049.8 1051.8L1050.6 1061.2L1051.4 1043.0L1052.2 1077.5L1053.0 1052.6L1053.8 1060.7L1054.6 1072.0L1055.4 1061.0L1056.2 1034.2L1057.0 1032.8L1057.8 1035.7L1058.6 1062.4L1059.4 1041.7L1060.2 1058.8L1061.0 1040.1L1061.8 1056.3L1062.6 1065.0L1063.4 1048.3L1064.2 1061.5L1065.0 1057.0L1065.8 1060.0L1066.6 1046.3L1067.4 1049.5L1068.2 1064.7L1069.0 1045.5L1069.8 1065.9L1070.6 1032.8L1071.4 1054.2L1072.2 1052.4L1073.0 1055.8L1073.8 1040.3L1074.6 1046.9L1075.4 1057.3L1076.2 1073.1L1077.0 1064.7L1077.8 1048.6L1078.6 1059.9L1079.4 1052.5L1080.2 1057.2L1081.0 1035.5L1081.8 1040.4L1082.6 1037.9L1083.4 1071.5L1084.2 1072.5L1085.0 1044.3L1085.8 1036.5L1086.6 1047.4L1087.4 1044.7L1088.2 1039.5L1089.0 1050.9L1089.8 1073.6L1090.6 1064.0L1091.4 1062.3L1092.2 1060.1L1093.0 1034.2L1093.8 1036.0L1094.6 1054.5L1095.4 1030.8L1096.2 1051.0L1097.0 1042.8L1097.8 1060.8L1098.6 1056.6L1099.4 1063.3L1100.2 1045.6L1101.0 1052.1L1101.8 1035.9L1102.6 1041.6L1103.4 1033.7L1104.2 1044.0L1105.0 1048.1L1105.8 1039.0L1106.6 1040.7L1107.4 1044.1L1108.2 1035.8L1109.0 1034.8L1109.8 1043.8L1110.6 1039.1L1111.4 1044.5L1112.2 1019.6L1113.0 1015.1L1113.8 1035.0L1114.6 1011.4L1115.4 1006.9L1116.2 988.6L1117.0 1015.6L1117.8 992.9L1118.6 980.4L1119.4 997.5L1120.2 996.5L1121.0 974.1L1121.8 976.7L1122.6 959.0L1123.4 976.5L1124.2 942.4L1125.0 970.4L1125.8 959.9L1126.6 953.4L1127.4 959.0L1128.2 947.2L1129.0 935.3L1129.8 941.8L1130.6 937.5L1131.4 943.3L1132.2 947.0L1133.0 949.4L1133.8 933.4L1134.6 939.9L1135.4 936.8L1136.2 947.8L1137.0 934.2L1137.8 940.7L1138.6 938.4L1139.4 924.9L1140.2 939.4L1141.0 953.1L1141.8 946.9L1142.6 944.9L1143.4 936.6L1144.2 942.0L1145.0 960.4L1145.8 961.8L1146.6 963.2L1147.4 945.3L1148.2 962.2L1149.0 979.5L1149.8 961.6L1150.6 965.3L1151.4 954.4L1152.2 960.6L1153.0 960.4L1153.8 962.6L1154.6 965.9L1155.4 969.2L1156.2 977.7L1157.0 991.0L1157.8 960.5L1158.6 962.2L1159.4 983.7L1160.2 989.3L1161.0 977.1L1161.8 975.8L1162.6 999.9L1163.4 978.2L1164.2 987.9L1165.0 994.8L1165.8 1008.3L1166.6 984.6L1167.4 1024.1L1168.2 1011.2L1169.0 1010.8L1169.8 991.6L1170.6 994.4L1171.4 997.0L1172.2 997.9L1173.0 997.0L1173.8 1020.3L1174.6 1012.2L1175.4 1018.2L1176.2 999.9L1177.0 1017.7L1177.8 1015.1L1178.6 1032.0L1179.4 1012.8L1180.2 1029.7L1181.0 1016.1L1181.8 1027.7L1182.6 1046.6L1183.4 1024.6L1184.2 1036.4L1185.0 1034.7L1185.8 1032.7L1186.6 1037.4L1187.4 1038.0L1188.2 1065.6L1189.0 1034.5L1189.8 1042.3L1190.6 1048.4L1191.4 1035.4L1192.2 1019.5L1193.0 1030.3L1193.8 1030.7L1194.6 1032.2L1195.4 1034.4L1196.2 1039.0L1197.0 1027.5L1197.8 1063.4L1198.6 1041.2L1199.4 1039.0L1200.2 1045.1L1201.0 1018.3L1201.8 1030.7L1202.6 1032.4L1203.4 1041.2L1204.2 1033.8L1205.0 1021.6L1205.8 1024.2L1206.6 1012.1L1207.4 1044.3L1208.2 1052.3L1209.0 1027.1L1209.8 1025.0L1210.6 1055.3L1211.4 1036.5L1212.2 1026.1L1213.0 1037.8L1213.8 1025.5L1214.6 1020.5L1215.4 1039.9L1216.2 1039.5L1217.0 1038.2L1217.8 1039.1L1218.6 1033.9L1219.4 1031.7L1220.2 1039.9L1221.0 1019.3L1221.8 1021.3L1222.6 1014.0L1223.4 1054.7L1224.2 1013.5L1225.0 1032.5L1225.8 1027.8L1226.6 1039.4L1227.4 1037.6L1228.2 1026.9L1229.0 1016.2L1229.8 1029.0L1230.6 1033.3L1231.4 1016.9L1232.2 1028.2L1233.0 1027.2L1233.8 1025.2L1234.6 1031.6L1235.4 1018.8L1236.2 1024.4L1237.0 1029.1L1237.8 1044.6L1238.6 1020.2L1239.4 1017.0L1240.2 1039.4L1241.0 1044.3L1241.8 1025.5L1242.6 1049.6L1243.4 1029.8L1244.2 1010.7L1245.0 1043.2L1245.8 1013.2L1246.6 1026.7L1247.4 1049.4L1248.2 1038.5L1249.0 1015.3L1249.8 1041.2L1250.6 1019.9L1251.4 1010.8L1252.2 1016.2L1253.0 1022.3L1253.8 1026.3L1254.6 1021.4L1255.4 1033.8L1256.2 1027.8L1257.0 1017.8L1257.8 1033.8L1258.6 1022.3L1259.4 1017.4L1260.2 1030.8L1261.0 1002.2L1261.8 1045.3L1262.6 1027.1L1263.4 1036.0L1264.2 1021.8L1265.0 1002.4L1265.8 1027.9L1266.6 1010.5L1267.4 1041.9L1268.2 1026.7L1269.0 1046.6L1269.8 1032.5L1270.6 1012.9L1271.4 1018.4L1272.2 1026.4L1273.0 1032.0L1273.8 1030.0L1274.6 1019.4L1275.4 1035.2L1276.2 1023.9L1277.0 1015.6L1277.8 1017.5L1278.6 1004.4L1279.4 1028.6L1280.2 1021.9L1281.0 1033.7L1281.8 1030.9L1282.6 1037.8L1283.4 1042.2L1284.2 995.8L1285.0 1024.6L1285.8 1016.4L1286.6 1034.1L1287.4 1023.2L1288.2 1044.3L1289.0 1024.1L1289.8 1020.0L1290.6 1011.0L1291.4 1026.3L1292.2 1013.0L1293.0 1030.1L1293.8 1019.4L1294.6 1030.8L1295.4 1036.6L1296.2 1035.8L1297.0 1018.1L1297.8 1007.0L1298.6 1036.8L1299.4 1012.1L1300.2 1046.8L1301.0 1025.4L1301.8 1021.4L1302.6 1031.1L1303.4 1040.3L1304.2 1027.4L1305.0 1038.7L1305.8 1018.9L1306.6 1037.2L1307.4 1020.1L1308.2 1034.0L1309.0 1019.3L1309.8 1040.1L1310.6 1030.7L1311.4 1032.0L1312.2 1018.5L1313.0 1031.1L1313.8 1026.9L1314.6 1041.5L1315.4 1011.2L1316.2 1028.2L1317.0 1035.7L1317.8 1002.6L1318.6 1044.9L1319.4 1035.0L1320.2 1040.6L1321.0 1031.1L1321.8 1025.4L1322.6 1036.5L1323.4 1033.1L1324.2 1051.2L1325.0 1038.6L1325.8 1032.5L1326.6 1031.1L1327.4 1021.2L1328.2 1030.7L1329.0 1022.8L1329.8 1019.7L1330.6 1048.5L1331.4 1022.5L1332.2 1025.6L1333.0 1047.7L1333.8 1051.6L1334.6 1054.9L1335.4 1038.2L1336.2 1060.6L1337.0 1047.4L1337.8 1027.9L1338.6 1034.0L1339.4 1013.9L1340.2 1018.2L1341.0 1026.4L1341.8 1039.5L1342.6 1056.8L1343.4 1045.3L1344.2 1041.0L1345.0 1038.6L1345.8 1053.8L1346.6 1049.6L1347.4 1038.8L1348.2 1045.1L1349.0 1036.2L1349.8 1044.3L1350.6 1025.0L1351.4 1039.9L1352.2 1025.2L1353.0 1045.2L1353.8 1048.6L1354.6 1039.9L1355.4 1048.4L1356.2 1048.1L1357.0 1038.9L1357.8 1043.5L1358.6 1055.1L1359.4 1051.7L1360.2 1055.1L1361.0 1074.3L1361.8 1027.9L1362.6 1049.5L1363.4 1035.1L1364.2 1047.5L1365.0 1053.9L1365.8 1044.2L1366.6 1056.8L1367.4 1048.0L1368.2 1041.8L1369.0 1043.5L1369.8 1050.7L1370.6 1048.3L1371.4 1036.8L1372.2 1055.6L1373.0 1043.1L1373.8 1048.4L1374.6 1058.4L1375.4 1047.3L1376.2 1051.7L1377.0 1040.9L1377.8 1055.0L1378.6 1047.5L1379.4 1063.1L1380.2 1058.6L1381.0 1054.1L1381.8 1041.7L1382.6 1064.8L1383.4 1051.0L1384.2 1055.0L1385.0 1063.2L1385.8 1055.3L1386.6 1033.7L1387.4 1053.1L1388.2 1068.7L1389.0 1066.3L1389.8 1045.6L1390.6 1056.1L1391.4 1054.1L1392.2 1080.4L1393.0 1054.3L1393.8 1043.0L1394.6 1054.2L1395.4 1066.8L1396.2 1048.3L1397.0 1063.1L1397.8 1052.9L1398.6 1056.6L1399.4 1058.0L1400.2 1063.6L1401.0 1070.3L1401.8 1057.2L1402.6 1057.1L1403.4 1064.2L1404.2 1063.9L1405.0 1052.1L1405.8 1055.6L1406.6 1068.5L1407.4 1064.0L1408.2 1050.6L1409.0 1053.6L1409.8 1056.3L1410.6 1072.2L1411.4 1060.1L1412.2 1073.7L1413.0 1058.1L1413.8 1065.2L1414.6 1075.1L1415.4 1071.3L1416.2 1038.7L1417.0 1067.5L1417.8 1087.4L1418.6 1058.8L1419.4 1077.4L1420.2 1064.2L1421.0 1060.6L1421.8 1071.0L1422.6 1067.1L1423.4 1070.8L1424.2 1062.5L1425.0 1068.5L1425.8 1058.8L1426.6 1069.8L1427.4 1075.9L1428.2 1074.7L1429.0 1073.4L1429.8 1077.1L1430.6 1078.4L1431.4 1086.9L1432.2 1059.6L1433.0 1064.9L1433.8 1064.4L1434.6 1064.1L1435.4 1066.0L1436.2 1062.2L1437.0 1089.3L1437.8 1074.4L1438.6 1085.9L1439.4 1062.9L1440.2 1050.8L1441.0 1086.7L1441.8 1087.0L1442.6 1089.0L1443.4 1073.8L1444.2 1055.4L1445.0 1072.5L1445.8 1075.2L1446.6 1077.6L1447.4 1079.7L1448.2 1070.8L1449.0 1061.8L1449.8 1074.4L1450.6 1078.7L1451.4 1062.6L1452.2 1083.9L1453.0 1069.9L1453.8 1061.0L1454.6 1073.1L1455.4 1077.0L1456.2 1058.0L1457.0 1082.0L1457.8 1069.0L1458.6 1078.3L1459.4 1075.7L1460.2 1070.7L1461.0 1067.8L1461.8 1059.0L1462.6 1080.0L1463.4 1068.5L1464.2 1060.2L1465.0 1068.8L1465.8 1063.5L1466.6 1065.6L1467.4 1084.3L1468.2 1077.2L1469.0 1066.6L1469.8 1072.1L1470.6 1076.2L1471.4 1073.7L1472.2 1043.5L1473.0 1046.7L1473.8 1062.7L1474.6 1065.5L1475.4 1071.7L1476.2 1067.5L1477.0 1068.9L1477.8 1068.0L1478.6 1077.2L1479.4 1064.9L1480.2 1055.7L1481.0 1074.8L1481.8 1070.4L1482.6 1059.0L1483.4 1057.6L1484.2 1065.8L1485.0 1067.8L1485.8 1064.2L1486.6 1063.2L1487.4 1059.0L1488.2 1059.4L1489.0 1059.1L1489.8 1072.0L1490.6 1045.8L1491.4 1068.4L1492.2 1053.9L1493.0 1059.8L1493.8 1079.0L1494.6 1050.5L1495.4 1065.5L1496.2 1051.4L1497.0 1063.3L1497.8 1060.3L1498.6 1062.6L1499.4 1069.1L1500.2 1040.2L1501.0 1051.2L1501.8 1082.8L1502.6 1065.7L1503.4 1078.6L1504.2 1055.9L1505.0 1074.5L1505.8 1046.0L1506.6 1062.3L1507.4 1047.2L1508.2 1070.8L1509.0 1065.5L1509.8 1043.4L1510.6 1044.7L1511.4 1059.8L1512.2 1066.9L1513.0 1077.0L1513.8 1041.7L1514.6 1039.6L1515.4 1074.6L1516.2 1040.9L1517.0 1040.1L1517.8 1069.2L1518.6 1060.5L1519.4 1054.6L1520.2 1047.3L1521.0 1037.4L1521.8 1050.8L1522.6 1068.3L1523.4 1056.0L1524.2 1072.7L1525.0 1059.0L1525.8 1066.5L1526.6 1065.3L1527.4 1045.0L1528.2 1051.8L1529.0 1047.8L1529.8 1056.9L1530.6 1045.4L1531.4 1056.7L1532.2 1060.5L1533.0 1061.9L1533.8 1075.9L1534.6 1043.3L1535.4 1054.1L1536.2 1036.5L1537.0 1048.3L1537.8 1052.3L1538.6 1053.5L1539.4 1064.4L1540.2 1044.5L1541.0 1037.9L1541.8 1052.8L1542.6 1072.9L1543.4 1059.5L1544.2 1063.3L1545.0 1064.9L1545.8 1049.6L1546.6 1055.3L1547.4 1042.3L1548.2 1054.0L1549.0 1052.4L1549.8 1058.2L1550.6 1040.7L1551.4 1055.2L1552.2 1055.1L1553.0 1055.8L1553.8 1051.6L1554.6 1047.8L1555.4 1049.5L1556.2 1044.7L1557.0 1078.6L1557.8 1069.0L1558.6 1074.6L1559.4 1054.8L1560.2 1093.3L1561.0 1079.1L1561.8 1061.7L1562.6 1076.8L1563.4 1062.2L1564.2 1061.6L1565.0 1067.2L1565.8 1058.4L1566.6 1084.0L1567.4 1055.2L1568.2 1081.6L1569.0 1065.4L1569.8 1074.8L1570.6 1072.0L1571.4 1064.2L1572.2 1080.7L1573.0 1064.3L1573.8 1075.7L1574.6 1069.1L1575.4 1074.3L1576.2 1109.6L1577.0 1081.4L1577.8 1079.6L1578.6 1074.7L1579.4 1080.1L1580.2 1067.8L1581.0 1065.6L1581.8 1084.1L1582.6 1087.0L1583.4 1071.0L1584.2 1101.9L1585.0 1088.7L1585.8 1087.8L1586.6 1088.8L1587.4 1085.3L1588.2 1093.8L1589.0 1077.7L1589.8 1083.8L1590.6 1095.0L1591.4 1075.7L1592.2 1057.4L1593.0 1075.3L1593.8 1093.2L1594.6 1084.6L1595.4 1102.1L1596.2 1078.5L1597.0 1095.3L1597.8 1092.3L1598.6 1101.3L1599.4 1064.7L1600.2 1079.8L1601.0 1111.2L1601.8 1100.9L1602.6 1102.1L1603.4 1099.8L1604.2 1091.9L1605.0 1119.7L1605.8 1098.2L1606.6 1113.7L1607.4 1103.7L1608.2 1084.1L1609.0 1109.3L1609.8 1114.0L1610.6 1101.1L1611.4 1094.0L1612.2 1086.6L1613.0 1104.8L1613.8 1094.9L1614.6 1096.9L1615.4 1114.7L1616.2 1101.3L1617.0 1111.3L1617.8 1120.5L1618.6 1102.0L1619.4 1111.5L1620.2 1114.1L1621.0 1105.1L1621.8 1113.5L1622.6 1111.2L1623.4 1105.2L1624.2 1120.3L1625.0 1120.6L1625.8 1099.2L1626.6 1115.1L1627.4 1114.7L1628.2 1116.9L1629.0 1107.9L1629.8 1146.1L1630.6 1132.1L1631.4 1112.0L1632.2 1120.5L1633.0 1106.2L1633.8 1117.4L1634.6 1099.8L1635.4 1122.4L1636.2 1107.7L1637.0 1123.4L1637.8 1125.9L1638.6 1122.5L1639.4 1125.3L1640.2 1122.0L1641.0 1133.2L1641.8 1117.6L1642.6 1124.0L1643.4 1124.3L1644.2 1121.3L1645.0 1116.2L1645.8 1123.9L1646.6 1126.7L1647.4 1124.9L1648.2 1121.4L1649.0 1130.7L1649.8 1116.6L1650.6 1119.7L1651.4 1122.4L1652.2 1121.7L1653.0 1131.1L1653.8 1120.3L1654.6 1129.5L1655.4 1128.7L1656.2 1140.3L1657.0 1119.3L1657.8 1138.0L1658.6 1121.9L1659.4 1110.1L1660.2 1126.5L1661.0 1137.6L1661.8 1125.4L1662.6 1117.3L1663.4 1126.7L1664.2 1128.9L1665.0 1125.6L1665.8 1126.6L1666.6 1125.9L1667.4 1129.6L1668.2 1130.6L1669.0 1121.8L1669.8 1120.1L1670.6 1141.7L1671.4 1142.7L1672.2 1131.1L1673.0 1130.3L1673.8 1124.6L1674.6 1121.9L1675.4 1135.2L1676.2 1127.9L1677.0 1134.1L1677.8 1122.6L1678.6 1132.4L1679.4 1118.6L1680.2 1130.7L1681.0 1126.0L1681.8 1127.5L1682.6 1128.9L1683.4 1143.2L1684.2 1136.4L1685.0 1138.8L1685.8 1141.2L1686.6 1136.2L1687.4 1140.2L1688.2 1126.0L1689.0 1124.9L1689.8 1130.5L1690.6 1144.6L1691.4 1127.5L1692.2 1135.0L1693.0 1132.8L1693.8 1150.1L1694.6 1133.3L1695.4 1148.5L1696.2 1129.6L1697.0 1131.8L1697.8 1143.8L1698.6 1150.4L1699.4 1132.5L1700.2 1132.0L1701.0 1133.5L1701.8 1136.7L1702.6 1140.7L1703.4 1139.9L1704.2 1133.4L1705.0 1138.5L1705.8 1139.7L1706.6 1149.7L1707.4 1156.4L1708.2 1152.7L1709.0 1147.4L1709.8 1136.7L1710.6 1139.9L1711.4 1139.4L1712.2 1141.2L1713.0 1143.3L1713.8 1142.9L1714.6 1153.5L1715.4 1121.7L1716.2 1145.1L1717.0 1140.2L1717.8 1135.0L1718.6 1133.2L1719.4 1154.5L1720.2 1134.0L1721.0 1139.6L1721.8 1138.8L1722.6 1148.4L1723.4 1137.9L1724.2 1155.7L1725.0 1142.6L1725.8 1130.8L1726.6 1148.6L1727.4 1142.3L1728.2 1140.1L1729.0 1151.0L1729.8 1142.2L1730.6 1145.7L1731.4 1146.2L1732.2 1153.0L1733.0 1147.1L1733.8 1125.6L1734.6 1142.1L1735.4 1141.4L1736.2 1147.2L1737.0 1138.5L1737.8 1147.8L1738.6 1144.7L1739.4 1146.0L1740.2 1128.4L1741.0 1132.9L1741.8 1148.0L1742.6 1139.6L1743.4 1157.5L1744.2 1127.5L1745.0 1132.6L1745.8 1156.8L1746.6 1155.4L1747.4 1149.8L1748.2 1124.8L1749.0 1143.4L1749.8 1150.3L1750.6 1149.0L1751.4 1147.0L1752.2 1147.2L1753.0 1146.1L1753.8 1145.9L1754.6 1149.9L1755.4 1147.2L1756.2 1154.3L1757.0 1143.1L1757.8 1162.6L1758.6 1149.5L1759.4 1146.8L1760.2 1147.4L1761.0 1148.9L1761.8 1143.4L1762.6 1141.6L1763.4 1155.5L1764.2 1147.8L1765.0 1144.3L1765.8 1154.4L1766.6 1158.7L1767.4 1155.4L1768.2 1151.8L1769.0 1141.4L1769.8 1152.0L1770.6 1149.5L1771.4 1145.2L1772.2 1144.6L1773.0 1150.4L1773.8 1143.6L1774.6 1144.1L1775.4 1149.3L1776.2 1159.5L1777.0 1152.8L1777.8 1142.1L1778.6 1151.7L1779.4 1163.8L1780.2 1147.0L1781.0 1156.0L1781.8 1160.4L1782.6 1152.3L1783.4 1141.7L1784.2 1146.0L1785.0 1156.2L1785.8 1148.8L1786.6 1162.4L1787.4 1150.0L1788.2 1157.5L1789.0 1146.6L1789.8 1163.3L1790.6 1144.8L1791.4 1144.4L1792.2 1157.8L1793.0 1146.9L1793.8 1144.4L1794.6 1163.6L1795.4 1148.9L1796.2 1150.3L1797.0 1152.4L1797.8 1164.3L1798.6 1148.6L1799.4 1161.3L1800.2 1152.2L1801.0 1148.8L1801.8 1155.5L1802.6 1142.8L1803.4 1146.9L1804.2 1157.6L1805.0 1155.0L1805.8 1157.7L1806.6 1163.6L1807.4 1153.5L1808.2 1150.0L1809.0 1152.8L1809.8 1160.6L1810.6 1149.9L1811.4 1149.1L1812.2 1164.0L1813.0 1151.0L1813.8 1149.6L1814.6 1157.3L1815.4 1147.7L1816.2 1145.4L1817.0 1149.5L1817.8 1157.8L1818.6 1162.1L1819.4 1142.1L1820.2 1158.5L1821.0 1146.8L1821.8 1169.9L1822.6 1165.6L1823.4 1158.1L1824.2 1159.7L1825.0 1165.9L1825.8 1151.1L1826.6 1131.0L1827.4 1147.6L1828.2 1149.8L1829.0 1157.9L1829.8 1148.9L1830.6 1143.1L1831.4 1160.9L1832.2 1159.1L1833.0 1165.1L1833.8 1150.6L1834.6 1159.0L1835.4 1151.4L1836.2 1162.5L1837.0 1157.1L1837.8 1162.8L1838.6 1145.8L1839.4 1163.3L1840.2 1139.4L1841.0 1168.2L1841.8 1154.4L1842.6 1158.2L1843.4 1156.7L1844.2 1155.3L1845.0 1166.6L1845.8 1153.8L1846.6 1153.0L1847.4 1167.4L1848.2 1149.5L1849.0 1154.1L1849.8 1168.2L1850.6 1156.9L1851.4 1154.0L1852.2 1167.3L1853.0 1166.7L1853.8 1159.3L1854.6 1167.9L1855.4 1159.2L1856.2 1152.8L1857.0 1159.7L1857.8 1158.5L1858.6 1143.4L1859.4 1160.0L1860.2 1153.9L1861.0 1158.4L1861.8 1158.9L1862.6 1168.0L1863.4 1150.7L1864.2 1155.4L1865.0 1168.7L1865.8 1178.9L1866.6 1156.2L1867.4 1163.3L1868.2 1152.8L1869.0 1158.9L1869.8 1158.7L1870.6 1165.9L1871.4 1170.7L1872.2 1165.8L1873.0 1167.8L1873.8 1159.1L1874.6 1156.3L1875.4 1165.1L1876.2 1166.5L1877.0 1161.7L1877.8 1163.4L1878.6 1165.2L1879.4 1170.3L1880.2 1162.1L1881.0 1158.7L1881.8 1160.2L1882.6 1159.6L1883.4 1162.3L1884.2 1162.1L1885.0 1167.2L1885.8 1167.9L1886.6 1165.3L1887.4 1152.4L1888.2 1165.2L1889.0 1171.2L1889.8 1162.3L1890.6 1170.8L1891.4 1161.7L1892.2 1156.3L1893.0 1160.0L1893.8 1165.4" stroke="#0f0"/>
<path d="M333.0 1231.2L333.8 1235.9L334.6 1238.9L335.4 1243.1L336.2 1247.0L337.0 1249.1L337.8 1247.0L338.6 1246.4L339.4 1247.3L340.2 1244.7L341.0 1242.2L341.8 1239.9L342.6 1237.1L343.4 1233.7L344.2 1218.1L345.0 1202.5L345.8 1186.7L346.6 1166.3L347.4 1146.1L348.2 1125.3L349.0 1101.9L349.8 1078.6L350.6 1057.0L351.4 1041.2L352.2 1025.6L353.0 1010.4L353.8 992.4L354.6 975.7L355.4 962.6L356.2 954.3L357.0 945.2L357.8 937.3L358.6 930.1L359.4 924.0L360.2 915.5L361.0 906.5L361.8 897.5L362.6 889.5L363.4 882.5L364.2 875.5L365.0 867.0L365.8 859.8L366.6 851.9L367.4 841.0L368.2 828.1L369.0 815.3L369.8 803.9L370.6 794.7L371.4 785.1L372.2 764.3L373.0 738.0L373.8 725.7L374.6 713.1L375.4 705.3L376.2 697.3L377.0 690.6L377.8 681.4L378.6 673.3L379.4 666.1L380.2 658.9L381.0 652.8L381.8 647.1L382.6 641.8L383.4 636.8L384.2 636.0L385.0 633.2L385.8 633.6L386.6 630.6L387.4 629.1L388.2 628.9L389.0 626.7L389.8 628.3L390.6 635.8L391.4 640.9L392.2 648.0L393.0 653.3L393.8 661.2L394.6 667.6L395.4 672.0L396.2 676.3L397.0 678.0L397.8 684.2L398.6 689.2L399.4 695.2L400.2 703.6L401.0 717.5L401.8 730.9L402.6 742.0L403.4 753.4L404.2 764.8L405.0 773.0L405.8 783.3L406.6 793.0L407.4 802.9L408.2 812.5L409.0 823.2L409.8 834.0L410.6 845.1L411.4 854.9L412.2 858.6L413.0 870.3L413.8 869.1L414.6 872.4L415.4 872.4L416.2 873.2L417.0 885.2L417.8 881.2L418.6 886.8L419.4 890.8L420.2 899.4L421.0 899.0L421.8 903.0L422.6 904.7L423.4 925.9L424.2 930.5L425.0 941.1L425.8 926.6L426.6 920.9L427.4 941.5L428.2 926.5L429.0 932.8L429.8 927.8L430.6 928.4L431.4 937.0L432.2 942.8L433.0 951.0L433.8 958.6L434.6 942.7L435.4 949.0L436.2 943.5L437.0 919.9L437.8 973.6L438.6 938.3L439.4 948.6L440.2 942.0L441.0 975.0L441.8 952.0L442.6 965.8L443.4 986.0L444.2 950.2L445.0 967.6L445.8 969.5L446.6 975.0L447.4 972.2L448.2 982.6L449.0 989.5L449.8 987.7L450.6 979.5L451.4 974.0L452.2 978.2L453.0 985.0L453.8 989.3L454.6 970.2L455.4 995.2L456.2 982.9L457.0 980.3L457.8 988.2L458.6 994.6L459.4 1002.2L460.2 1010.7L461.0 990.7L461.8 968.1L462.6 1007.8L463.4 1002.2L464.2 1007.2L465.0 999.4L465.8 1001.5L466.6 1015.4L467.4 1000.4L468.2 1017.6L469.0 1012.3L469.8 1003.3L470.6 1009.3L471.4 1025.9L472.2 1011.4L473.0 1005.2L473.8 1008.3L474.6 1010.1L475.4 1002.9L476.2 1023.4L477.0 1011.6L477.8 1019.3L478.6 1022.0L479.4 1042.6L480.2 1035.0L481.0 1030.3L481.8 1025.9L482.6 1040.1L483.4 1016.2L484.2 1027.5L485.0 1036.1L485.8 1017.6L486.6 1030.5L487.4 1030.8L488.2 1042.1L489.0 1004.6L489.8 1057.0L490.6 1043.3L491.4 1026.0L492.2 1037.5L493.0 1044.3L493.8 1039.0L494.6 1033.5L495.4 1032.9L496.2 1054.1L497.0 1057.4L497.8 1052.7L498.6 1031.3L499.4 1060.8L500.2 1087.2L501.0 1059.4L501.8 1041.6L502.6 1054.2L503.4 1054.8L504.2 1048.9L505.0 1044.1L505.8 1059.9L506.6 1057.9L507.4 1080.1L508.2 1053.1L509.0 1073.6L509.8 1067.4L510.6 1079.0L511.4 1095.8L512.2 1045.2L513.0 1069.6L513.8 1063.9L514.6 1081.0L515.4 1092.8L516.2 1081.5L517.0 1079.0L517.8 1072.5L518.6 1064.8L519.4 1066.6L520.2 1067.2L521.0 1067.1L521.8 1057.7L522.6 1083.6L523.4 1090.8L524.2 1068.6L525.0 1093.6L525.8 1093.0L526.6 1057.6L527.4 1070.6L528.2 1086.1L529.0 1089.9L529.8 1096.1L530.6 1084.7L531.4 1072.0L532.2 1078.3L533.0 1106.6L533.8 1089.6L534.6 1082.3L535.4 1084.3L536.2 1083.2L537.0 1089.5L537.8 1095.0L538.6 1087.6L539.4 1095.3L540.2 1094.5L541.0 1096.1L541.8 1096.9L542.6 1078.5L543.4 1101.0L544.2 1079.5L545.0 1098.3L545.8 1086.1L546.6 1079.4L547.4 1082.1L548.2 1082.7L549.0 1110.4L549.8 1092.6L550.6 1097.1L551.4 1090.2L552.2 1091.9L553.0 1096.8L553.8 1123.6L554.6 1097.3L555.4 1101.7L556.2 1108.7L557.0 1094.8L557.8 1104.3L558.6 1087.0L559.4 1124.2L560.2 1100.8L561.0 1103.4L561.8 1099.3L562.6 1106.0L563.4 1089.4L564.2 1102.8L565.0 1109.4L565.8 1103.0L566.6 1126.2L567.4 1086.8L568.2 1104.4L569.0 1104.0L569.8 1105.5L570.6 1121.2L571.4 1105.1L572.2 1097.5L573.0 1117.3L573.8 1105.2L574.6 1112.2L575.4 1098.3L576.2 1094.4L577.0 1109.0L577.8 1119.3L578.6 1119.5L579.4 1108.0L580.2 1122.9L581.0 1123.5L581.8 1100.3L582.6 1122.5L583.4 1092.0L584.2 1123.4L585.0 1124.7L585.8 1135.9L586.6 1100.9L587.4 1120.8L588.2 1130.7L589.0 1122.3L589.8 1119.3L590.6 1136.3L591.4 1104.9L592.2 1130.9L593.0 1149.4L593.8 1129.8L594.6 1119.5L595.4 1135.6L596.2 1138.7L597.0 1149.3L597.8 1123.9L598.6 1105.1L599.4 1129.7L600.2 1109.1L601.0 1137.3L601.8 1120.8L602.6 1137.2L603.4 1140.1L604.2 1137.1L605.0 1123.4L605.8 1137.1L606.6 1137.4L607.4 1104.3L608.2 1165.9L609.0 1131.4L609.8 1137.2L610.6 1138.7L611.4 1146.1L612.2 1147.5L613.0 1129.7L613.8 1146.5L614.6 1141.7L615.4 1132.2L616.2 1151.9L617.0 1141.5L617.8 1148.0L618.6 1135.7L619.4 1153.7L620.2 1139.9L621.0 1136.4L621.8 1160.0L622.6 1155.9L623.4 1145.9L624.2 1134.8L625.0 1148.5L625.8 1141.9L626.6 1167.0L627.4 1156.5L628.2 1151.4L629.0 1134.1L629.8 1161.9L630.6 1169.8L631.4 1145.8L632.2 1145.1L633.0 1170.3L633.8 1148.0L634.6 1153.9L635.4 1157.1L636.2 1160.0L637.0 1170.3L637.8 1158.7L638.6 1160.0L639.4 1158.6L640.2 1130.3L641.0 1158.1L641.8 1150.8L642.6 1156.2L643.4 1138.0L644.2 1146.3L645.0 1165.2L645.8 1149.8L646.6 1157.8L647.4 1163.0L648.2 1154.5L649.0 1143.8L649.8 1168.8L650.6 1151.1L651.4 1160.1L652.2 1146.5L653.0 1165.7L653.8 1144.5L654.6 1148.4L655.4 1163.9L656.2 1174.8L657.0 1186.0L657.8 1169.4L658.6 1155.4L659.4 1162.5L660.2 1148.2L661.0 1148.6L661.8 1152.4L662.6 1165.5L663.4 1160.3L664.2 1163.3L665.0 1164.4L665.8 1147.7L666.6 1153.1L667.4 1156.2L668.2 1161.3L669.0 1143.0L669.8 1157.2L670.6 1170.7L671.4 1154.9L672.2 1175.1L673.0 1159.9L673.8 1171.8L674.6 1163.4L675.4 1140.8L676.2 1171.6L677.0 1171.6L677.8 1158.0L678.6 1172.1L679.4 1164.7L680.2 1159.6L681.0 1152.8L681.8 1156.0L682.6 1155.8L683.4 1166.8L684.2 1169.5L685.0 1156.8L685.8 1163.3L686.6 1155.7L687.4 1155.2L688.2 1156.3L689.0 1156.4L689.8 1158.6L690.6 1160.7L691.4 1153.3L692.2 1152.7L693.0 1158.7L693.8 1140.6L694.6 1160.1L695.4 1156.2L696.2 1151.3L697.0 1175.7L697.8 1153.6L698.6 1148.0L699.4 1135.9L700.2 1163.1L701.0 1152.4L701.8 1155.7L702.6 1156.7L703.4 1148.4L704.2 1159.6L705.0 1160.5L705.8 1152.5L706.6 1153.4L707.4 1159.0L708.2 1159.4L709.0 1152.1L709.8 1167.9L710.6 1153.7L711.4 1145.4L712.2 1151.2L713.0 1147.2L713.8 1150.4L714.6 1148.6L715.4 1164.7L716.2 1151.2L717.0 1150.3L717.8 1163.8L718.6 1155.7L719.4 1139.7L720.2 1137.6L721.0 1155.7L721.8 1149.4L722.6 1151.2L723.4 1154.6L724.2 1148.1L725.0 1144.4L725.8 1160.8L726.6 1155.9L727.4 1146.2L728.2 1155.0L729.0 1145.4L729.8 1159.7L730.6 1148.6L731.4 1151.3L732.2 1151.6L733.0 1164.0L733.8 1156.6L734.6 1141.8L735.4 1137.3L736.2 1149.6L737.0 1165.2L737.8 1129.7L738.6 1143.9L739.4 1147.8L740.2 1162.0L741.0 1163.9L741.8 1144.2L742.6 1145.2L743.4 1144.5L744.2 1139.6L745.0 1140.6L745.8 1141.4L746.6 1135.4L747.4 1151.0L748.2 1145.9L749.0 1148.3L749.8 1145.8L750.6 1141.5L751.4 1149.8L752.2 1150.1L753.0 1145.1L753.8 1148.3L754.6 1131.7L755.4 1164.4L756.2 1160.3L757.0 1164.7L757.8 1146.8L758.6 1128.8L759.4 1144.1L760.2 1145.9L761.0 1160.7L761.8 1144.2L762.6 1151.2L763.4 1161.3L764.2 1156.5L765.0 1158.2L765.8 1156.9L766.6 1165.3L767.4 1162.4L768.2 1157.2L769.0 1182.6L769.8 1158.9L770.6 1170.0L771.4 1167.1L772.2 1175.9L773.0 1183.5L773.8 1189.3L774.6 1171.2L775.4 1174.0L776.2 1171.0L777.0 1182.6L777.8 1168.5L778.6 1170.6L779.4 1166.0L780.2 1185.2L781.0 1180.2L781.8 1173.4L782.6 1181.9L783.4 1193.2L784.2 1192.5L785.0 1184.6L785.8 1192.9L786.6 1190.0L787.4 1199.1L788.2 1213.5L789.0 1200.0L789.8 1216.3L790.6 1203.1L791.4 1206.3L792.2 1213.0L793.0 1203.0L793.8 1213.4L794.6 1217.7L795.4 1220.6L796.2 1206.2L797.0 1215.1L797.8 1228.5L798.6 1228.2L799.4 1236.5L800.2 1216.2L801.0 1236.2L801.8 1225.8L802.6 1236.0L803.4 1237.7L804.2 1237.4L805.0 1233.4L805.8 1231.7L806.6 1238.7L807.4 1234.7L808.2 1242.2L809.0 1228.4L809.8 1244.0L810.6 1234.4L811.4 1240.1L812.2 1242.1L813.0 1257.2L813.8 1251.2L814.6 1242.2L815.4 1256.7L816.2 1249.3L817.0 1237.2L817.8 1242.7L818.6 1252.0L819.4 1249.8L820.2 1255.4L821.0 1261.9L821.8 1250.2L822.6 1273.7L823.4 1255.0L824.2 1263.1L825.0 1250.5L825.8 1256.2L826.6 1254.4L827.4 1252.7L828.2 1251.4L829.0 1266.0L829.8 1256.2L830.6 1258.5L831.4 1265.4L832.2 1258.3L833.0 1255.7L833.8 1253.5L834.6 1265.7L835.4 1256.5L836.2 1266.1L837.0 1265.7L837.8 1265.8L838.6 1259.0L839.4 1258.8L840.2 1258.3L841.0 1263.6L841.8 1258.7L842.6 1269.6L843.4 1249.9L844.2 1264.5L845.0 1276.3L845.8 1268.2L846.6 1263.8L847.4 1262.0L848.2 1269.7L849.0 1266.0L849.8 1271.5L850.6 1267.6L851.4 1268.9L852.2 1278.3L853.0 1283.5L853.8 1278.0L854.6 1272.7L855.4 1270.6L856.2 1275.8L857.0 1277.2L857.8 1269.3L858.6 1273.8L859.4 1289.2L860.2 1269.8L861.0 1271.2L861.8 1284.2L862.6 1271.2L863.4 1284.2L864.2 1279.8L865.0 1272.1L865.8 1274.4L866.6 1272.5L867.4 1285.3L868.2 1288.5L869.0 1274.9L869.8 1280.0L870.6 1276.2L871.4 1292.0L872.2 1287.9L873.0 1277.7L873.8 1270.3L874.6 1284.8L875.4 1277.6L876.2 1288.2L877.0 1280.8L877.8 1279.9L878.6 1292.9L879.4 1285.6L880.2 1280.8L881.0 1288.6L881.8 1291.3L882.6 1290.3L883.4 1282.6L884.2 1284.4L885.0 1272.9L885.8 1289.1L886.6 1287.8L887.4 1291.5L888.2 1280.8L889.0 1279.2L889.8 1282.2L890.6 1291.2L891.4 1294.6L892.2 1290.7L893.0 1286.0L893.8 1287.2L894.6 1288.2L895.4 1289.8L896.2 1295.9L897.0 1296.8L897.8 1284.9L898.6 1293.2L899.4 1281.3L900.2 1298.1L901.0 1289.0L901.8 1290.5L902.6 1294.1L903.4 1287.9L904.2 1278.7L905.0 1284.6L905.8 1290.0L906.6 1288.5L907.4 1295.6L908.2 1290.1L909.0 1296.0L909.8 1287.9L910.6 1295.4L911.4 1287.3L912.2 1295.2L913.0 1302.1L913.8 1288.7L914.6 1299.8L915.4 1291.1L916.2 1288.4L917.0 1288.3L917.8 1290.1L918.6 1303.1L919.4 1281.3L920.2 1296.5L921.0 1290.6L921.8 1295.3L922.6 1293.2L923.4 1294.9L924.2 1295.1L925.0 1298.4L925.8 1297.5L926.6 1290.1L927.4 1285.0L928.2 1295.3L929.0 1293.8L929.8 1293.4L930.6 1298.8L931.4 1294.8L932.2 1288.6L933.0 1293.1L933.8 1293.5L934.6 1293.1L935.4 1291.5L936.2 1294.6L937.0 1294.0L937.8 1298.4L938.6 1294.6L939.4 1296.9L940.2 1300.9L941.0 1299.8L941.8 1288.8L942.6 1302.8L943.4 1291.8L944.2 1299.7L945.0 1296.7L945.8 1297.2L946.6 1301.2L947.4 1300.7L948.2 1289.6L949.0 1298.1L949.8 1298.1L950.6 1298.0L951.4 1294.7L952.2 1301.1L953.0 1306.9L953.8 1302.6L954.6 1300.4L955.4 1284.2L956.2 1304.8L957.0 1300.5L957.8 1305.6L958.6 1300.9L959.4 1299.3L960.2 1298.6L961.0 1300.5L961.8 1311.0L962.6 1303.3L963.4 1294.3L964.2 1298.1L965.0 1301.4L965.8 1298.6L966.6 1308.3L967.4 1300.8L968.2 1302.4L969.0 1302.2L969.8 1301.7L970.6 1298.2L971.4 1297.8L972.2 1297.4L973.0 1309.4L973.8 1293.1L974.6 1301.3L975.4 1304.9L976.2 1308.4L977.0 1302.3L977.8 1299.4L978.6 1301.4L979.4 1289.5L980.2 1301.1L981.0 1307.7L981.8 1299.0L982.6 1301.4L983.4 1303.5L984.2 1293.7L985.0 1301.8L985.8 1307.6L986.6 1303.8L987.4 1301.2L988.2 1298.7L989.0 1308.1L989.8 1297.8L990.6 1308.7L991.4 1298.4L992.2 1307.1L993.0 1297.6L993.8 1303.4L994.6 1301.3L995.4 1305.5L996.2 1307.6L997.0 1306.8L997.8 1300.6L998.6 1308.2L999.4 1304.7L1000.2 1306.6L1001.0 1307.2L1001.8 1309.6L1002.6 1309.7L1003.4 1311.6L1004.2 1311.9L1005.0 1299.2L1005.8 1299.5L1006.6 1295.3L1007.4 1303.5L1008.2 1313.9L1009.0 1304.7L1009.8 1311.3L1010.6 1312.1L1011.4 1312.8L1012.2 1308.3L1013.0 1305.4L1013.8 1314.4L1014.6 1303.4L1015.4 1314.2L1016.2 1306.0L1017.0 1306.6L1017.8 1310.3L1018.6 1318.8L1019.4 1312.5L1020.2 1318.0L1021.0 1311.8L1021.8 1314.6L1022.6 1317.4L1023.4 1309.7L1024.2 1310.4L1025.0 1311.5L1025.8 1314.4L1026.6 1314.0L1027.4 1311.2L1028.2 1318.5L1029.0 1317.3L1029.8 1316.2L1030.6 1307.2L1031.4 1304.3L1032.2 1321.0L1033.0 1317.9L1033.8 1312.0L1034.6 1316.9L1035.4 1313.1L1036.2 1322.3L1037.0 1314.5L1037.8 1313.8L1038.6 1328.9L1039.4 1317.6L1040.2 1312.4L1041.0 1316.3L1041.8 1317.4L1042.6 1316.7L1043.4 1321.0L1044.2 1315.6L1045.0 1312.5L1045.8 1313.5L1046.6 1319.7L1047.4 1318.5L1048.2 1318.5L1049.0 1312.3L1049.8 1314.6L1050.6 1320.6L1051.4 1331.1L1052.2 1310.0L1053.0 1318.6L1053.8 1323.2L1054.6 1324.9L1055.4 1318.4L1056.2 1306.4L1057.0 1319.9L1057.8 1313.4L1058.6 1310.1L1059.4 1313.6L1060.2 1318.1L1061.0 1319.0L1061.8 1323.5L1062.6 1324.9L1063.4 1312.8L1064.2 1326.7L1065.0 1321.3L1065.8 1320.8L1066.6 1312.5L1067.4 1317.8L1068.2 1313.4L1069.0 1320.8L1069.8 1325.9L1070.6 1317.9L1071.4 1318.5L1072.2 1325.4L1073.0 1323.5L1073.8 1321.6L1074.6 1321.1L1075.4 1317.4L1076.2 1317.4L1077.0 1316.3L1077.8 1315.7L1078.6 1325.6L1079.4 1320.8L1080.2 1321.4L1081.0 1319.2L1081.8 1311.1L1082.6 1319.0L1083.4 1317.0L1084.2 1316.1L1085.0 1321.4L1085.8 1321.9L1086.6 1317.3L1087.4 1319.6L1088.2 1321.7L1089.0 1316.2L1089.8 1319.7L1090.6 1313.8L1091.4 1318.3L1092.2 1318.3L1093.0 1321.9L1093.8 1322.7L1094.6 1320.0L1095.4 1320.6L1096.2 1318.0L1097.0 1321.4L1097.8 1321.2L1098.6 1313.3L1099.4 1310.8L1100.2 1318.7L1101.0 1311.9L1101.8 1313.3L1102.6 1312.9L1103.4 1316.7L1104.2 1313.2L1105.0 1312.6L1105.8 1312.5L1106.6 1311.9L1107.4 1310.7L1108.2 1311.2L1109.0 1307.6L1109.8 1304.5L1110.6 1307.1L1111.4 1310.0L1112.2 1306.4L1113.0 1304.8L1113.8 1303.9L1114.6 1303.5L1115.4 1301.2L1116.2 1296.2L1117.0 1297.7L1117.8 1298.4L1118.6 1300.7L1119.4 1299.2L1120.2 1295.2L1121.0 1295.9L1121.8 1294.7L1122.6 1297.2L1123.4 1292.6L1124.2 1289.0L1125.0 1287.2L1125.8 1289.3L1126.6 1287.2L1127.4 1286.3L1128.2 1287.6L1129.0 1285.6L1129.8 1282.0L1130.6 1284.4L1131.4 1283.2L1132.2 1276.9L1133.0 1280.8L1133.8 1275.0L1134.6 1276.7L1135.4 1275.0L1136.2 1273.4L1137.0 1274.3L1137.8 1266.7L1138.6 1268.9L1139.4 1275.3L1140.2 1274.7L1141.0 1272.2L1141.8 1275.7L1142.6 1277.8L1143.4 1275.5L1144.2 1278.4L1145.0 1278.3L1145.8 1272.4L1146.6 1274.6L1147.4 1279.1L1148.2 1279.2L1149.0 1281.4L1149.8 1284.6L1150.6 1283.9L1151.4 1284.1L1152.2 1287.1L1153.0 1287.1L1153.8 1289.4L1154.6 1288.8L1155.4 1287.2L1156.2 1290.0L1157.0 1294.4L1157.8 1291.3L1158.6 1293.1L1159.4 1293.4L1160.2 1299.6L1161.0 1293.5L1161.8 1297.9L1162.6 1298.6L1163.4 1300.6L1164.2 1299.1L1165.0 1302.6L1165.8 1303.0L1166.6 1304.7L1167.4 1306.4L1168.2 1309.4L1169.0 1307.7L1169.8 1309.8L1170.6 1312.2L1171.4 1310.1L1172.2 1311.3L1173.0 1310.0L1173.8 1307.6L1174.6 1315.6L1175.4 1313.4L1176.2 1315.6L1177.0 1315.1L1177.8 1315.2L1178.6 1313.9L1179.4 1316.4L1180.2 1316.8L1181.0 1316.3L1181.8 1313.1L1182.6 1320.2L1183.4 1318.4L1184.2 1315.0L1185.0 1314.1L1185.8 1319.0L1186.6 1318.6L1187.4 1320.2L1188.2 1319.9L1189.0 1321.7L1189.8 1321.7L1190.6 1322.2L1191.4 1322.2L1192.2 1316.9L1193.0 1317.8L1193.8 1318.7L1194.6 1316.9L1195.4 1321.3L1196.2 1319.4L1197.0 1322.7L1197.8 1317.1L1198.6 1320.8L1199.4 1323.6L1200.2 1318.6L1201.0 1317.1L1201.8 1318.5L1202.6 1315.9L1203.4 1313.5L1204.2 1318.0L1205.0 1314.7L1205.8 1316.7L1206.6 1315.0L1207.4 1314.2L1208.2 1312.0L1209.0 1310.9L1209.8 1313.7L1210.6 1312.0L1211.4 1311.0L1212.2 1311.2L1213.0 1313.0L1213.8 1308.0L1214.6 1307.5L1215.4 1305.2L1216.2 1306.4L1217.0 1308.3L1217.8 1302.5L1218.6 1302.0L1219.4 1303.0L1220.2 1301.6L1221.0 1302.3L1221.8 1300.3L1222.6 1300.3L1223.4 1298.3L1224.2 1298.8L1225.0 1295.1L1225.8 1293.0L1226.6 1292.3L1227.4 1289.2L1228.2 1291.1L1229.0 1287.8L1229.8 1287.0L1230.6 1286.7L1231.4 1285.2L1232.2 1281.1L1233.0 1276.8L1233.8 1275.7L1234.6 1271.9L1235.4 1268.1L1236.2 1263.4L1237.0 1254.6L1237.8 1252.1L1238.6 1248.5L1239.4 1246.1L1240.2 1241.4L1241.0 1236.5L1241.8 1232.4L1242.6 1221.7L1243.4 1221.5L1244.2 1219.0L1245.0 1216.4L1245.8 1211.5L1246.6 1202.9L1247.4 1192.8L1248.2 1188.2L1249.0 1184.7L1249.8 1180.1L1250.6 1175.4L1251.4 1164.8L1252.2 1154.2L1253.0 1156.2L1253.8 1140.7L1254.6 1137.1L1255.4 1137.7L1256.2 1138.1L1257.0 1132.3L1257.8 1125.5L1258.6 1115.9L1259.4 1119.4L1260.2 1110.1L1261.0 1116.3L1261.8 1112.9L1262.6 1109.6L1263.4 1101.5L1264.2 1095.0L1265.0 1081.2L1265.8 1088.3L1266.6 1100.0L1267.4 1082.8L1268.2 1090.0L1269.0 1091.5L1269.8 1083.2L1270.6 1085.3L1271.4 1084.5L1272.2 1082.7L1273.0 1081.4L1273.8 1081.7L1274.6 1076.5L1275.4 1069.0L1276.2 1079.6L1277.0 1078.9L1277.8 1091.0L1278.6 1075.3L1279.4 1079.6L1280.2 1076.7L1281.0 1080.2L1281.8 1073.5L1282.6 1075.7L1283.4 1082.4L1284.2 1056.6L1285.0 1075.3L1285.8 1078.1L1286.6 1074.7L1287.4 1060.8L1288.2 1096.3L1289.0 1074.6L1289.8 1099.3L1290.6 1090.8L1291.4 1101.1L1292.2 1101.6L1293.0 1092.6L1293.8 1124.6L1294.6 1113.5L1295.4 1129.6L1296.2 1107.2L1297.0 1110.7L1297.8 1115.8L1298.6 1115.4L1299.4 1133.2L1300.2 1125.0L1301.0 1123.9L1301.8 1132.0L1302.6 1139.2L1303.4 1137.4L1304.2 1125.8L1305.0 1145.1L1305.8 1146.4L1306.6 1149.5L1307.4 1145.9L1308.2 1141.3L1309.0 1149.6L1309.8 1159.9L1310.6 1138.6L1311.4 1158.9L1312.2 1161.4L1313.0 1151.6L1313.8 1168.6L1314.6 1151.6L1315.4 1154.1L1316.2 1161.3L1317.0 1150.6L1317.8 1162.6L1318.6 1175.6L1319.4 1170.6L1320.2 1164.9L1321.0 1159.0L1321.8 1173.7L1322.6 1167.6L1323.4 1157.6L1324.2 1185.3L1325.0 1179.8L1325.8 1177.4L1326.6 1171.7L1327.4 1179.7L1328.2 1189.0L1329.0 1181.2L1329.8 1185.2L1330.6 1193.0L1331.4 1191.9L1332.2 1185.7L1333.0 1188.1L1333.8 1189.0L1334.6 1193.1L1335.4 1185.2L1336.2 1196.0L1337.0 1197.3L1337.8 1209.9L1338.6 1192.9L1339.4 1197.7L1340.2 1213.7L1341.0 1199.1L1341.8 1201.3L1342.6 1198.3L1343.4 1197.4L1344.2 1206.7L1345.0 1208.1L1345.8 1197.4L1346.6 1205.5L1347.4 1222.0L1348.2 1209.6L1349.0 1201.8L1349.8 1218.4L1350.6 1220.6L1351.4 1196.1L1352.2 1217.4L1353.0 1202.8L1353.8 1223.7L1354.6 1212.3L1355.4 1204.6L1356.2 1205.7L1357.0 1197.9L1357.8 1212.7L1358.6 1217.7L1359.4 1205.7L1360.2 1215.3L1361.0 1217.3L1361.8 1229.9L1362.6 1200.8L1363.4 1231.1L1364.2 1225.7L1365.0 1233.1L1365.8 1225.7L1366.6 1226.0L1367.4 1218.9L1368.2 1228.0L1369.0 1214.1L1369.8 1225.5L1370.6 1226.2L1371.4 1219.8L1372.2 1220.1L1373.0 1216.4L1373.8 1215.2L1374.6 1222.3L1375.4 1200.2L1376.2 1236.0L1377.0 1228.3L1377.8 1230.4L1378.6 1221.8L1379.4 1226.1L1380.2 1231.9L1381.0 1231.4L1381.8 1227.2L1382.6 1224.3L1383.4 1238.9L1384.2 1230.1L1385.0 1240.1L1385.8 1222.1L1386.6 1233.6L1387.4 1227.3L1388.2 1236.2L1389.0 1240.5L1389.8 1225.4L1390.6 1237.9L1391.4 1226.5L1392.2 1240.5L1393.0 1234.2L1393.8 1227.2L1394.6 1229.4L1395.4 1237.0L1396.2 1230.6L1397.0 1244.8L1397.8 1237.0L1398.6 1241.3L1399.4 1225.5L1400.2 1240.2L1401.0 1228.6L1401.8 1235.7L1402.6 1231.1L1403.4 1230.0L1404.2 1234.0L1405.0 1238.2L1405.8 1230.3L1406.6 1243.5L1407.4 1240.3L1408.2 1229.6L1409.0 1236.2L1409.8 1243.6L1410.6 1234.4L1411.4 1237.1L1412.2 1235.2L1413.0 1233.6L1413.8 1252.8L1414.6 1232.6L1415.4 1241.1L1416.2 1242.4L1417.0 1246.4L1417.8 1248.0L1418.6 1239.9L1419.4 1239.1L1420.2 1232.7L1421.0 1250.4L1421.8 1242.3L1422.6 1240.9L1423.4 1243.4L1424.2 1248.3L1425.0 1247.0L1425.8 1235.9L1426.6 1241.7L1427.4 1242.6L1428.2 1253.3L1429.0 1237.8L1429.8 1239.3L1430.6 1236.4L1431.4 1244.5L1432.2 1247.6L1433.0 1249.4L1433.8 1246.2L1434.6 1246.9L1435.4 1246.5L1436.2 1245.4L1437.0 1240.9L1437.8 1242.9L1438.6 1236.5L1439.4 1251.4L1440.2 1250.1L1441.0 1251.5L1441.8 1236.7L1442.6 1257.3L1443.4 1246.3L1444.2 1252.1L1445.0 1247.2L1445.8 1251.9L1446.6 1246.0L1447.4 1252.9L1448.2 1252.8L1449.0 1254.5L1449.8 1248.0L1450.6 1245.4L1451.4 1239.2L1452.2 1245.5L1453.0 1235.1L1453.8 1238.6L1454.6 1244.0L1455.4 1250.7L1456.2 1240.3L1457.0 1246.6L1457.8 1240.7L1458.6 1265.5L1459.4 1246.1L1460.2 1256.4L1461.0 1257.5L1461.8 1250.3L1462.6 1252.5L1463.4 1231.8L1464.2 1252.0L1465.0 1237.8L1465.8 1238.7L1466.6 1228.8L1467.4 1242.3L1468.2 1247.9L1469.0 1238.1L1469.8 1259.0L1470.6 1240.5L1471.4 1247.2L1472.2 1232.6L1473.0 1255.2L1473.8 1246.5L1474.6 1249.8L1475.4 1242.8L1476.2 1239.9L1477.0 1244.1L1477.8 1243.5L1478.6 1239.4L1479.4 1249.9L1480.2 1249.2L1481.0 1243.5L1481.8 1247.5L1482.6 1233.2L1483.4 1240.3L1484.2 1233.6L1485.0 1246.4L1485.8 1243.2L1486.6 1255.7L1487.4 1240.9L1488.2 1231.8L1489.0 1242.5L1489.8 1239.7L1490.6 1235.2L1491.4 1261.6L1492.2 1229.1L1493.0 1231.6L1493.8 1229.0L1494.6 1241.0L1495.4 1241.7L1496.2 1242.0L1497.0 1236.8L1497.8 1242.9L1498.6 1246.3L1499.4 1246.2L1500.2 1226.3L1501.0 1237.6L1501.8 1236.6L1502.6 1239.9L1503.4 1244.3L1504.2 1236.9L1505.0 1243.6L1505.8 1245.1L1506.6 1241.6L1507.4 1236.0L1508.2 1245.7L1509.0 1236.1L1509.8 1250.6L1510.6 1241.5L1511.4 1244.1L1512.2 1235.4L1513.0 1243.4L1513.8 1239.9L1514.6 1233.0L1515.4 1239.1L1516.2 1235.3L1517.0 1223.7L1517.8 1236.6L1518.6 1212.7L1519.4 1227.6L1520.2 1212.1L1521.0 1226.4L1521.8 1209.4L1522.6 1217.6L1523.4 1225.1L1524.2 1216.1L1525.0 1223.9L1525.8 1223.4L1526.6 1209.0L1527.4 1219.9L1528.2 1207.0L1529.0 1203.5L1529.8 1205.5L1530.6 1204.0L1531.4 1223.3L1532.2 1220.2L1533.0 1211.5L1533.8 1215.5L1534.6 1211.9L1535.4 1220.3L1536.2 1201.2L1537.0 1208.8L1537.8 1209.9L1538.6 1220.3L1539.4 1224.4L1540.2 1215.8L1541.0 1203.0L1541.8 1208.8L1542.6 1218.6L1543.4 1193.6L1544.2 1185.6L1545.0 1192.6L1545.8 1189.8L1546.6 1200.5L1547.4 1188.7L1548.2 1195.2L1549.0 1199.8L1549.8 1185.4L1550.6 1199.6L1551.4 1209.3L1552.2 1190.9L1553.0 1206.8L1553.8 1194.6L1554.6 1196.0L1555.4 1219.9L1556.2 1187.2L1557.0 1202.4L1557.8 1186.8L1558.6 1181.4L1559.4 1189.4L1560.2 1189.6L1561.0 1189.1L1561.8 1197.4L1562.6 1185.2L1563.4 1192.6L1564.2 1205.1L1565.0 1194.9L1565.8 1186.8L1566.6 1189.5L1567.4 1179.5L1568.2 1180.9L1569.0 1198.6L1569.8 1203.9L1570.6 1190.1L1571.4 1190.5L1572.2 1186.5L1573.0 1186.7L1573.8 1198.9L1574.6 1188.0L1575.4 1180.1L1576.2 1187.4L1577.0 1196.4L1577.8 1188.5L1578.6 1193.1L1579.4 1198.8L1580.2 1178.8L1581.0 1197.9L1581.8 1183.3L1582.6 1181.9L1583.4 1182.0L1584.2 1182.3L1585.0 1186.7L1585.8 1191.2L1586.6 1195.5L1587.4 1197.3L1588.2 1205.6L1589.0 1190.9L1589.8 1190.9L1590.6 1186.5L1591.4 1184.0L1592.2 1190.3L1593.0 1175.3L1593.8 1181.0L1594.6 1199.4L1595.4 1198.0L1596.2 1193.1L1597.0 1204.1L1597.8 1203.8L1598.6 1185.9L1599.4 1188.6L1600.2 1211.4L1601.0 1210.6L1601.8 1203.7L1602.6 1185.8L1603.4 1197.8L1604.2 1198.7L1605.0 1201.2L1605.8 1198.8L1606.6 1201.6L1607.4 1195.5L1608.2 1201.4L1609.0 1222.4L1609.8 1216.9L1610.6 1211.4L1611.4 1208.5L1612.2 1209.1L1613.0 1213.9L1613.8 1215.6L1614.6 1204.9L1615.4 1214.0L1616.2 1214.8L1617.0 1212.5L1617.8 1224.4L1618.6 1217.4L1619.4 1226.1L1620.2 1211.7L1621.0 1220.7L1621.8 1223.0L1622.6 1219.1L1623.4 1222.3L1624.2 1224.0L1625.0 1225.9L1625.8 1225.7L1626.6 1234.4L1627.4 1224.3L1628.2 1230.4L1629.0 1227.0L1629.8 1226.2L1630.6 1223.2L1631.4 1242.1L1632.2 1231.5L1633.0 1229.7L1633.8 1226.3L1634.6 1235.8L1635.4 1230.3L1636.2 1243.4L1637.0 1228.6L1637.8 1248.2L1638.6 1221.2L1639.4 1249.5L1640.2 1235.7L1641.0 1237.0L1641.8 1245.8L1642.6 1248.2L1643.4 1246.4L1644.2 1247.6L1645.0 1246.3L1645.8 1244.5L1646.6 1249.5L1647.4 1241.2L1648.2 1240.9L1649.0 1249.7L1649.8 1257.7L1650.6 1254.9L1651.4 1242.2L1652.2 1260.3L1653.0 1250.6L1653.8 1271.6L1654.6 1263.1L1655.4 1251.8L1656.2 1255.2L1657.0 1258.9L1657.8 1254.4L1658.6 1251.9L1659.4 1250.3L1660.2 1262.7L1661.0 1257.4L1661.8 1270.7L1662.6 1261.5L1663.4 1253.4L1664.2 1255.0L1665.0 1263.2L1665.8 1264.6L1666.6 1264.7L1667.4 1276.9L1668.2 1270.0L1669.0 1267.5L1669.8 1264.9L1670.6 1256.6L1671.4 1261.2L1672.2 1258.3L1673.0 1272.0L1673.8 1269.4L1674.6 1268.4L1675.4 1266.9L1676.2 1266.3L1677.0 1279.8L1677.8 1266.3L1678.6 1261.5L1679.4 1272.0L1680.2 1264.4L1681.0 1277.7L1681.8 1275.1L1682.6 1287.9L1683.4 1270.5L1684.2 1271.7L1685.0 1282.2L1685.8 1271.2L1686.6 1266.7L1687.4 1275.1L1688.2 1280.7L1689.0 1268.9L1689.8 1270.4L1690.6 1275.0L1691.4 1278.5L1692.2 1275.6L1693.0 1275.5L1693.8 1270.7L1694.6 1265.8L1695.4 1283.2L1696.2 1279.5L1697.0 1284.2L1697.8 1278.8L1698.6 1276.5L1699.4 1286.9L1700.2 1271.9L1701.0 1277.8L1701.8 1275.8L1702.6 1288.1L1703.4 1282.1L1704.2 1275.8L1705.0 1275.1L1705.8 1290.8L1706.6 1279.8L1707.4 1282.8L1708.2 1286.6L1709.0 1285.3L1709.8 1277.7L1710.6 1272.9L1711.4 1280.7L1712.2 1283.7L1713.0 1283.1L1713.8 1296.2L1714.6 1281.4L1715.4 1281.8L1716.2 1288.3L1717.0 1290.8L1717.8 1281.1L1718.6 1287.0L1719.4 1291.0L1720.2 1279.8L1721.0 1283.2L1721.8 1285.8L1722.6 1282.8L1723.4 1281.1L1724.2 1294.0L1725.0 1289.1L1725.8 1286.0L1726.6 1274.8L1727.4 1292.1L1728.2 1298.9L1729.0 1289.0L1729.8 1284.0L1730.6 1279.5L1731.4 1283.9L1732.2 1294.1L1733.0 1285.2L1733.8 1292.2L1734.6 1289.6L1735.4 1298.3L1736.2 1284.9L1737.0 1292.8L1737.8 1289.3L1738.6 1293.0L1739.4 1301.7L1740.2 1287.8L1741.0 1298.3L1741.8 1289.3L1742.6 1288.5L1743.4 1289.8L1744.2 1287.1L1745.0 1291.3L1745.8 1287.4L1746.6 1292.8L1747.4 1284.2L1748.2 1301.2L1749.0 1298.6L1749.8 1288.5L1750.6 1289.1L1751.4 1303.7L1752.2 1306.2L1753.0 1307.4L1753.8 1288.5L1754.6 1283.4L1755.4 1290.7L1756.2 1290.3L1757.0 1292.0L1757.8 1297.8L1758.6 1286.2L1759.4 1302.4L1760.2 1296.0L1761.0 1288.5L1761.8 1295.8L1762.6 1292.5L1763.4 1305.1L1764.2 1285.6L1765.0 1301.5L1765.8 1288.9L1766.6 1296.7L1767.4 1302.2L1768.2 1290.3L1769.0 1296.0L1769.8 1294.4L1770.6 1295.7L1771.4 1296.4L1772.2 1296.0L1773.0 1290.3L1773.8 1294.0L1774.6 1293.8L1775.4 1303.1L1776.2 1295.8L1777.0 1298.2L1777.8 1288.9L1778.6 1298.0L1779.4 1287.9L1780.2 1293.7L1781.0 1290.3L1781.8 1287.1L1782.6 1293.3L1783.4 1296.1L1784.2 1294.5L1785.0 1291.7L1785.8 1305.3L1786.6 1306.3L1787.4 1301.6L1788.2 1290.2L1789.0 1296.3L1789.8 1295.7L1790.6 1290.0L1791.4 1298.0L1792.2 1290.5L1793.0 1293.6L1793.8 1299.9L1794.6 1294.6L1795.4 1299.8L1796.2 1289.9L1797.0 1297.7L1797.8 1297.1L1798.6 1299.3L1799.4 1295.7L1800.2 1295.2L1801.0 1291.9L1801.8 1300.1L1802.6 1293.5L1803.4 1283.5L1804.2 1297.2L1805.0 1300.9L1805.8 1300.4L1806.6 1302.3L1807.4 1298.0L1808.2 1314.7L1809.0 1293.0L1809.8 1307.6L1810.6 1288.3L1811.4 1294.8L1812.2 1296.5L1813.0 1305.7L1813.8 1291.2L1814.6 1294.6L1815.4 1294.6L1816.2 1294.2L1817.0 1301.1L1817.8 1292.9L1818.6 1300.9L1819.4 1293.4L1820.2 1295.2L1821.0 1299.0L1821.8 1299.0L1822.6 1303.8L1823.4 1303.6L1824.2 1304.3L1825.0 1297.4L1825.8 1299.1L1826.6 1302.3L1827.4 1298.1L1828.2 1298.8L1829.0 1300.2L1829.8 1299.2L1830.6 1307.5L1831.4 1299.4L1832.2 1299.1L1833.0 1297.2L1833.8 1303.5L1834.6 1297.5L1835.4 1308.2L1836.2 1292.5L1837.0 1303.4L1837.8 1303.4L1838.6 1304.8L1839.4 1298.5L1840.2 1303.6L1841.0 1301.0L1841.8 1302.7L1842.6 1307.9L1843.4 1305.9L1844.2 1305.4L1845.0 1301.7L1845.8 1295.6L1846.6 1300.8L1847.4 1310.2L1848.2 1302.7L1849.0 1316.4L1849.8 1301.0L1850.6 1302.9L1851.4 1309.4L1852.2 1302.3L1853.0 1300.3L1853.8 1299.8L1854.6 1292.3L1855.4 1291.0L1856.2 1293.0L1857.0 1290.4L1857.8 1287.2L1858.6 1288.9L1859.4 1283.7L1860.2 1283.6L1861.0 1281.7L1861.8 1286.3L1862.6 1278.6L1863.4 1277.7L1864.2 1271.5L1865.0 1270.2L1865.8 1266.9L1866.6 1261.6L1867.4 1255.6L1868.2 1253.8L1869.0 1248.4L1869.8 1243.3L1870.6 1239.1L1871.4 1239.2L1872.2 1232.2L1873.0 1233.5L1873.8 1228.2L1874.6 1225.2L1875.4 1222.9L1876.2 1218.7L1877.0 1218.2L1877.8 1213.8L1878.6 1209.3L1879.4 1209.8L1880.2 1203.4L1881.0 1199.1L1881.8 1190.4L1882.6 1183.0L1883.4 1179.1L1884.2 1176.7L1885.0 1188.3L1885.8 1193.4L1886.6 1206.7L1887.4 1200.4L1888.2 1198.4L1889.0 1193.8L1889.8 1192.0L1890.6 1191.7L1891.4 1187.8L1892.2 1192.9L1893.0 1191.6L1893.8 1188.8" stroke="#00f"/>
</g>
<g fill="#c6c6c6">
<rect x="173.3" y="10.3" width="1880.4" height="2.7"/>
<rect x="173.3" y="10.3" width="2.7" height="1399.7"/>
<rect x="2051.5" y="10.3" width="2.2" height="1399.7"/>
<rect x="181" y="1402" width="1865.5" height="3"/>
</g>
<rect x="178.5" y="15.5" width="1870.5" height="1392" fill="none" stroke="#000" stroke-width="5"/>
<g class="tk"><rect x="336.6" y="1410" width="2.6" height="24" fill="#c6c6c6"/><line x1="334.2" y1="1408" x2="334.2" y2="1435"/><rect x="648.4" y="1410" width="2.6" height="24" fill="#c6c6c6"/><line x1="646.0" y1="1408" x2="646.0" y2="1435"/><rect x="960.1" y="1410" width="2.6" height="24" fill="#c6c6c6"/><line x1="957.8" y1="1408" x2="957.8" y2="1435"/><rect x="1271.9" y="1410" width="2.6" height="24" fill="#c6c6c6"/><line x1="1269.6" y1="1408" x2="1269.6" y2="1435"/><rect x="1583.8" y="1410" width="2.6" height="24" fill="#c6c6c6"/><line x1="1581.4" y1="1408" x2="1581.4" y2="1435"/><rect x="1895.5" y="1410" width="2.6" height="24" fill="#c6c6c6"/><line x1="1893.2" y1="1408" x2="1893.2" y2="1435"/></g>
<g class="tl"><text x="334.2" y="1508.6">5</text><text x="646.0" y="1508.6">10</text><text x="957.8" y="1508.6">15</text><text x="1269.6" y="1508.6">20</text><text x="1581.4" y="1508.6">25</text><text x="1893.2" y="1508.6">30</text></g>
<g class="lab">
<text x="1157" y="517">FG/GE30</text>
<text x="1056" y="695">FG/GE30/HTs4</text>
<text x="939" y="899">FG/GE30/HTs10</text>
<text x="1093" y="1225">HTs</text>
</g>
<text class="lab" style="font-size:79.3px" transform="translate(83.5 959) rotate(-90)">Intensity (a.u.)</text>
<g style="font-family:'Liberation Sans',Arial,sans-serif;font-size:84.5px;fill:#000">
<text x="947" y="1663" font-weight="bold">2</text>
<text x="996.5" y="1663" style="font-family:'Liberation Serif','Times New Roman',serif;font-size:76px">θ</text>
<text x="1057" y="1663">(degree)</text>
</g>
</svg>
</body></html>
